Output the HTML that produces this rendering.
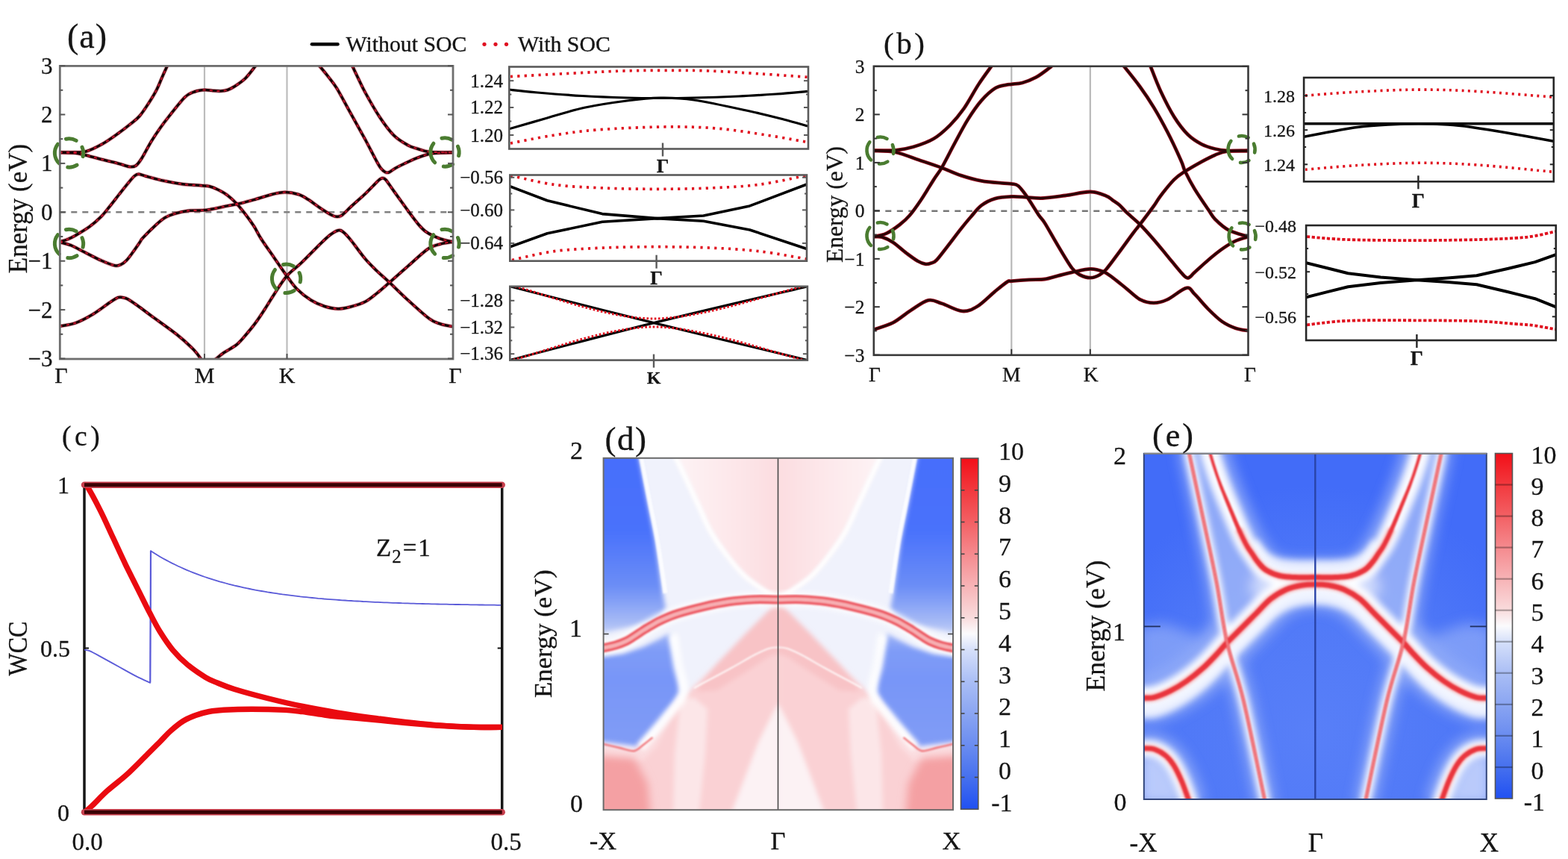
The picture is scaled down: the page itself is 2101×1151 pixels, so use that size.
<!DOCTYPE html>
<html><head><meta charset="utf-8"><title>Band structure figure</title>
<style>html,body{margin:0;padding:0;background:#fff;} svg{display:block;} text{stroke:#151515;stroke-width:0.3px;}</style></head>
<body><svg width="2101" height="1151" viewBox="0 0 2101 1151">
<rect width="2101" height="1151" fill="#fff"/>
<g stroke="#bcbcbc" stroke-width="2.2">
<line x1="274" y1="88.4" x2="274" y2="481"/>
<line x1="384.5" y1="88.4" x2="384.5" y2="481"/>
</g>
<line x1="80.3" y1="284.2" x2="607" y2="284.2" stroke="#808080" stroke-width="2.6" stroke-dasharray="8,7"/>
<defs><clipPath id="clipA"><rect x="80.3" y="88.4" width="526.7" height="392.6"/></clipPath></defs>
<g clip-path="url(#clipA)" fill="none" stroke-linecap="round" stroke-linejoin="round">
<path d="M80.5,204.2 C83.8,204.2 94.2,204.2 100,204 C105.8,203.8 108.8,204.8 115,203 C121.2,201.2 129.8,197 137,193 C144.2,189 151.7,183.5 158,179 C164.3,174.5 170.2,169.9 175,166 C179.8,162.1 182.8,160.3 187,155.5 C191.2,150.7 196.2,142.9 200,137 C203.8,131.1 207.2,125.5 210,120 C212.8,114.5 214.7,109.2 217,104 C219.3,98.8 222.8,91.1 224,88.5" stroke="#d0283f" stroke-width="5.2" opacity="0.5"/>
<path d="M80.5,204.5 C83.8,204.6 94.2,204.4 100,205 C105.8,205.6 108.3,206.4 115,208 C121.7,209.6 132.5,212.6 140,214.5 C147.5,216.4 154.3,218 160,219.5 C165.7,221 170.3,223.1 174,223.5 C177.7,223.9 179.3,223.9 182,222 C184.7,220.1 186.5,217.5 190,212 C193.5,206.5 198.8,195.8 203,189 C207.2,182.2 211.2,176.4 215,171 C218.8,165.6 220.5,163.3 226,156.5 C231.5,149.7 242,135.7 248,130 C254,124.3 257.6,124.1 262,122.5 C266.4,120.9 270.6,120.7 274.4,120.5 C278.2,120.3 281.4,121.2 285,121.5 C288.6,121.8 292.7,122.2 296,122 C299.3,121.8 302.1,121.5 305,120.5 C307.9,119.5 309.5,118.9 313.5,116.3 C317.5,113.7 324,109.5 328.8,104.9 C333.6,100.3 340,91.3 342.2,88.6" stroke="#d0283f" stroke-width="5.2" opacity="0.5"/>
<path d="M80.5,324 C82.2,323.4 87.5,322 91,320.5 C94.5,319 96.8,318 101.6,315.2 C106.4,312.4 114,308 119.7,303.9 C125.4,299.8 131,294.8 135.5,290.3 C140,285.8 142.7,281.9 146.8,276.8 C150.9,271.8 155.8,265.3 160,260 C164.2,254.7 168.7,249 172,245 C175.3,241 177.8,237.9 180,236 C182.2,234.1 183,233.3 185.5,233.3 C188,233.3 191.2,235 195,236 C198.8,237 203.6,238.4 208,239.5 C212.4,240.6 215.2,241.4 221.4,242.6 C227.6,243.8 237.3,245.8 245.2,246.8 C253.1,247.8 263.1,248.1 269,248.6 C274.9,249.1 276.9,248.8 280.9,249.8 C284.9,250.8 288.8,252.5 292.8,254.5 C296.8,256.5 300.7,258.6 304.7,261.6 C308.7,264.6 312.6,268.2 316.6,272.4 C320.6,276.6 324.5,281.5 328.5,286.6 C332.5,291.8 336.8,297.7 340.4,303.3 C344,308.9 345.4,313.1 349.9,320 C354.3,326.9 361.4,336.7 367.1,345 C372.8,353.3 379.2,362.8 384.3,369.8 C389.4,376.8 392.2,381.6 397.6,387 C403,392.4 410.6,398.4 416.8,402.3 C423,406.2 428.9,408.6 435,410.5 C441.1,412.4 447.3,413.7 453.1,413.8 C458.9,413.9 463.9,412.6 470,411 C476.1,409.4 483.6,407.3 489.4,404.3 C495.2,401.3 499.6,397.3 505,393 C510.4,388.7 514.9,384.6 521.9,378.5 C528.9,372.4 538.2,364 546.8,356.5 C555.4,349 566.3,338.4 573.5,333.5 C580.7,328.6 584.4,328.6 590,327 C595.6,325.4 604.2,324.5 607,324" stroke="#d0283f" stroke-width="5.2" opacity="0.5"/>
<path d="M80.5,324.5 C82.9,325.2 89.5,326.5 94.9,328.7 C100.3,330.9 106.1,334.3 112.9,337.7 C119.7,341.1 128.7,346 135.5,349 C142.3,352 149.2,354.9 153.6,355.8 C158,356.7 159.4,355.6 162,354.5 C164.6,353.4 166.7,351.8 169.4,349 C172.1,346.2 175,342.1 178,338 C181,333.9 185.1,327.8 187.4,324.5 C189.7,321.2 187.9,322.4 191.6,318.5 C195.3,314.6 204.6,305.4 209.5,300.9 C214.4,296.4 217.3,293.9 221.3,291.5 C225.3,289.1 228.3,288.1 233.3,286.6 C238.3,285.1 245.2,283.3 251.1,282.5 C257.1,281.7 264,282.2 269,281.9 C274,281.6 274.9,281.7 280.9,280.7 C286.8,279.7 297.8,277.3 304.7,275.9 C311.6,274.5 316.6,273.8 322.5,272.4 C328.4,271 333.4,269.6 340.4,267.6 C347.3,265.6 357.3,262.2 364.2,260.5 C371.1,258.8 376.1,257.6 382,257.6 C387.9,257.6 394.8,258.9 399.9,260.5 C405,262.1 407.5,263.9 412.9,267.3 C418.2,270.7 426.6,277.2 432,280.7 C437.4,284.2 441.8,286.9 445,288.5 C448.2,290.1 449,290.3 451.2,290.3 C453.4,290.3 454.8,290.7 458,288.5 C461.2,286.3 465.1,281.7 470.3,276.9 C475.5,272.1 484.4,264.3 489.4,259.7 C494.3,255 496.9,252.1 500,249 C503.1,245.9 505.9,242.7 508,241 C510.1,239.3 510.8,238.7 512.3,238.7 C513.8,238.7 514.5,238.1 517,241 C519.5,243.9 522.6,249 527.6,255.9 C532.6,262.8 541.4,275.2 546.8,282.6 C552.2,290 556.2,295.4 560.1,300 C564,304.6 566.5,307.3 570,310 C573.5,312.7 577,314.4 581.2,316.3 C585.4,318.2 590.7,320.2 595,321.5 C599.3,322.8 605,323.6 607,324" stroke="#d0283f" stroke-width="5.2" opacity="0.5"/>
<path d="M428.2,88.6 C430.2,91 436.2,98.1 440,103 C443.8,107.9 446.1,109.9 451.2,118.2 C456.2,126.5 463.9,141.1 470.3,152.6 C476.7,164.1 483.9,176.9 489.4,187 C494.8,197.1 499.6,206.7 503,213 C506.4,219.3 507.8,222.1 510,225 C512.2,227.9 514.2,229.5 516,230.5 C517.8,231.5 519,231.7 521,231 C523,230.3 525.3,228.1 528,226.5 C530.7,224.9 532.2,223.9 537.2,221.5 C542.2,219.1 551.8,214.5 558.2,211.9 C564.6,209.3 570.1,207.4 575.4,206.2 C580.7,205 584.7,205.1 590,204.8 C595.3,204.5 604.2,204.4 607,204.3" stroke="#d0283f" stroke-width="5.2" opacity="0.5"/>
<path d="M472.2,88.6 C473.5,91.3 477.1,99.1 480,105 C482.9,110.9 484.6,115.4 489.4,124 C494.1,132.6 502.1,146.9 508.5,156.5 C514.9,166.1 521.2,174.9 527.6,181.3 C534,187.7 541.4,191.7 546.8,194.7 C552.2,197.7 555.5,198.1 560,199.5 C564.5,200.9 568.5,202.5 573.5,203.3 C578.5,204.1 584.4,204 590,204.2 C595.6,204.4 604.2,204.3 607,204.3" stroke="#d0283f" stroke-width="5.2" opacity="0.5"/>
<path d="M80.5,437.1 C84,436.4 94.3,435.2 101.6,432.6 C108.9,430 116.7,425.8 124.2,421.3 C131.7,416.8 141.2,409.3 146.8,405.5 C152.5,401.7 155.1,399.8 158.1,398.7 C161.1,397.6 162.8,398.4 165,398.8 C167.2,399.2 168.3,399.1 171.6,401 C174.9,402.9 179.7,406.2 185,410 C190.3,413.8 194.6,417.2 203.3,423.6 C212,430 227.7,440.9 237.1,448.4 C246.5,455.9 254.3,463.2 259.7,468.7 C265.1,474.2 267.9,479.4 269.5,481.5" stroke="#d0283f" stroke-width="5.2" opacity="0.5"/>
<path d="M288.7,481.5 C290.6,480 295.2,475.8 300,472.5 C304.8,469.2 312.4,465.7 317.4,461.6 C322.4,457.5 325.9,452.8 330,448 C334.1,443.2 338,438.6 342.2,432.9 C346.4,427.2 350.9,420.4 355,414 C359.1,407.6 362.2,402.1 367.1,394.7 C372,387.3 378.2,376.8 384.3,369.8 C390.4,362.8 396.1,359.6 403.4,352.6 C410.7,345.6 421.8,334.1 428.2,327.8 C434.6,321.5 437.9,318.2 442,315 C446.1,311.8 450.1,309.4 453.1,308.7 C456.1,308 457.1,308.8 460,311 C462.9,313.2 465.4,316 470.3,322 C475.2,328 483.6,340.1 489.4,346.9 C495.2,353.7 499.6,357.7 505,363 C510.4,368.3 514.9,371.9 521.9,378.5 C528.9,385.1 537.9,394.2 546.8,402.3 C555.7,410.4 568.2,421.9 575.4,427.2 C582.6,432.5 584.7,432.2 590,434 C595.3,435.8 604.2,437.1 607,437.7" stroke="#d0283f" stroke-width="5.2" opacity="0.5"/>
<path d="M80.5,204.2 C83.8,204.2 94.2,204.2 100,204 C105.8,203.8 108.8,204.8 115,203 C121.2,201.2 129.8,197 137,193 C144.2,189 151.7,183.5 158,179 C164.3,174.5 170.2,169.9 175,166 C179.8,162.1 182.8,160.3 187,155.5 C191.2,150.7 196.2,142.9 200,137 C203.8,131.1 207.2,125.5 210,120 C212.8,114.5 214.7,109.2 217,104 C219.3,98.8 222.8,91.1 224,88.5" stroke="#140203" stroke-width="3.5"/>
<path d="M80.5,204.5 C83.8,204.6 94.2,204.4 100,205 C105.8,205.6 108.3,206.4 115,208 C121.7,209.6 132.5,212.6 140,214.5 C147.5,216.4 154.3,218 160,219.5 C165.7,221 170.3,223.1 174,223.5 C177.7,223.9 179.3,223.9 182,222 C184.7,220.1 186.5,217.5 190,212 C193.5,206.5 198.8,195.8 203,189 C207.2,182.2 211.2,176.4 215,171 C218.8,165.6 220.5,163.3 226,156.5 C231.5,149.7 242,135.7 248,130 C254,124.3 257.6,124.1 262,122.5 C266.4,120.9 270.6,120.7 274.4,120.5 C278.2,120.3 281.4,121.2 285,121.5 C288.6,121.8 292.7,122.2 296,122 C299.3,121.8 302.1,121.5 305,120.5 C307.9,119.5 309.5,118.9 313.5,116.3 C317.5,113.7 324,109.5 328.8,104.9 C333.6,100.3 340,91.3 342.2,88.6" stroke="#140203" stroke-width="3.5"/>
<path d="M80.5,324 C82.2,323.4 87.5,322 91,320.5 C94.5,319 96.8,318 101.6,315.2 C106.4,312.4 114,308 119.7,303.9 C125.4,299.8 131,294.8 135.5,290.3 C140,285.8 142.7,281.9 146.8,276.8 C150.9,271.8 155.8,265.3 160,260 C164.2,254.7 168.7,249 172,245 C175.3,241 177.8,237.9 180,236 C182.2,234.1 183,233.3 185.5,233.3 C188,233.3 191.2,235 195,236 C198.8,237 203.6,238.4 208,239.5 C212.4,240.6 215.2,241.4 221.4,242.6 C227.6,243.8 237.3,245.8 245.2,246.8 C253.1,247.8 263.1,248.1 269,248.6 C274.9,249.1 276.9,248.8 280.9,249.8 C284.9,250.8 288.8,252.5 292.8,254.5 C296.8,256.5 300.7,258.6 304.7,261.6 C308.7,264.6 312.6,268.2 316.6,272.4 C320.6,276.6 324.5,281.5 328.5,286.6 C332.5,291.8 336.8,297.7 340.4,303.3 C344,308.9 345.4,313.1 349.9,320 C354.3,326.9 361.4,336.7 367.1,345 C372.8,353.3 379.2,362.8 384.3,369.8 C389.4,376.8 392.2,381.6 397.6,387 C403,392.4 410.6,398.4 416.8,402.3 C423,406.2 428.9,408.6 435,410.5 C441.1,412.4 447.3,413.7 453.1,413.8 C458.9,413.9 463.9,412.6 470,411 C476.1,409.4 483.6,407.3 489.4,404.3 C495.2,401.3 499.6,397.3 505,393 C510.4,388.7 514.9,384.6 521.9,378.5 C528.9,372.4 538.2,364 546.8,356.5 C555.4,349 566.3,338.4 573.5,333.5 C580.7,328.6 584.4,328.6 590,327 C595.6,325.4 604.2,324.5 607,324" stroke="#140203" stroke-width="3.5"/>
<path d="M80.5,324.5 C82.9,325.2 89.5,326.5 94.9,328.7 C100.3,330.9 106.1,334.3 112.9,337.7 C119.7,341.1 128.7,346 135.5,349 C142.3,352 149.2,354.9 153.6,355.8 C158,356.7 159.4,355.6 162,354.5 C164.6,353.4 166.7,351.8 169.4,349 C172.1,346.2 175,342.1 178,338 C181,333.9 185.1,327.8 187.4,324.5 C189.7,321.2 187.9,322.4 191.6,318.5 C195.3,314.6 204.6,305.4 209.5,300.9 C214.4,296.4 217.3,293.9 221.3,291.5 C225.3,289.1 228.3,288.1 233.3,286.6 C238.3,285.1 245.2,283.3 251.1,282.5 C257.1,281.7 264,282.2 269,281.9 C274,281.6 274.9,281.7 280.9,280.7 C286.8,279.7 297.8,277.3 304.7,275.9 C311.6,274.5 316.6,273.8 322.5,272.4 C328.4,271 333.4,269.6 340.4,267.6 C347.3,265.6 357.3,262.2 364.2,260.5 C371.1,258.8 376.1,257.6 382,257.6 C387.9,257.6 394.8,258.9 399.9,260.5 C405,262.1 407.5,263.9 412.9,267.3 C418.2,270.7 426.6,277.2 432,280.7 C437.4,284.2 441.8,286.9 445,288.5 C448.2,290.1 449,290.3 451.2,290.3 C453.4,290.3 454.8,290.7 458,288.5 C461.2,286.3 465.1,281.7 470.3,276.9 C475.5,272.1 484.4,264.3 489.4,259.7 C494.3,255 496.9,252.1 500,249 C503.1,245.9 505.9,242.7 508,241 C510.1,239.3 510.8,238.7 512.3,238.7 C513.8,238.7 514.5,238.1 517,241 C519.5,243.9 522.6,249 527.6,255.9 C532.6,262.8 541.4,275.2 546.8,282.6 C552.2,290 556.2,295.4 560.1,300 C564,304.6 566.5,307.3 570,310 C573.5,312.7 577,314.4 581.2,316.3 C585.4,318.2 590.7,320.2 595,321.5 C599.3,322.8 605,323.6 607,324" stroke="#140203" stroke-width="3.5"/>
<path d="M428.2,88.6 C430.2,91 436.2,98.1 440,103 C443.8,107.9 446.1,109.9 451.2,118.2 C456.2,126.5 463.9,141.1 470.3,152.6 C476.7,164.1 483.9,176.9 489.4,187 C494.8,197.1 499.6,206.7 503,213 C506.4,219.3 507.8,222.1 510,225 C512.2,227.9 514.2,229.5 516,230.5 C517.8,231.5 519,231.7 521,231 C523,230.3 525.3,228.1 528,226.5 C530.7,224.9 532.2,223.9 537.2,221.5 C542.2,219.1 551.8,214.5 558.2,211.9 C564.6,209.3 570.1,207.4 575.4,206.2 C580.7,205 584.7,205.1 590,204.8 C595.3,204.5 604.2,204.4 607,204.3" stroke="#140203" stroke-width="3.5"/>
<path d="M472.2,88.6 C473.5,91.3 477.1,99.1 480,105 C482.9,110.9 484.6,115.4 489.4,124 C494.1,132.6 502.1,146.9 508.5,156.5 C514.9,166.1 521.2,174.9 527.6,181.3 C534,187.7 541.4,191.7 546.8,194.7 C552.2,197.7 555.5,198.1 560,199.5 C564.5,200.9 568.5,202.5 573.5,203.3 C578.5,204.1 584.4,204 590,204.2 C595.6,204.4 604.2,204.3 607,204.3" stroke="#140203" stroke-width="3.5"/>
<path d="M80.5,437.1 C84,436.4 94.3,435.2 101.6,432.6 C108.9,430 116.7,425.8 124.2,421.3 C131.7,416.8 141.2,409.3 146.8,405.5 C152.5,401.7 155.1,399.8 158.1,398.7 C161.1,397.6 162.8,398.4 165,398.8 C167.2,399.2 168.3,399.1 171.6,401 C174.9,402.9 179.7,406.2 185,410 C190.3,413.8 194.6,417.2 203.3,423.6 C212,430 227.7,440.9 237.1,448.4 C246.5,455.9 254.3,463.2 259.7,468.7 C265.1,474.2 267.9,479.4 269.5,481.5" stroke="#140203" stroke-width="3.5"/>
<path d="M288.7,481.5 C290.6,480 295.2,475.8 300,472.5 C304.8,469.2 312.4,465.7 317.4,461.6 C322.4,457.5 325.9,452.8 330,448 C334.1,443.2 338,438.6 342.2,432.9 C346.4,427.2 350.9,420.4 355,414 C359.1,407.6 362.2,402.1 367.1,394.7 C372,387.3 378.2,376.8 384.3,369.8 C390.4,362.8 396.1,359.6 403.4,352.6 C410.7,345.6 421.8,334.1 428.2,327.8 C434.6,321.5 437.9,318.2 442,315 C446.1,311.8 450.1,309.4 453.1,308.7 C456.1,308 457.1,308.8 460,311 C462.9,313.2 465.4,316 470.3,322 C475.2,328 483.6,340.1 489.4,346.9 C495.2,353.7 499.6,357.7 505,363 C510.4,368.3 514.9,371.9 521.9,378.5 C528.9,385.1 537.9,394.2 546.8,402.3 C555.7,410.4 568.2,421.9 575.4,427.2 C582.6,432.5 584.7,432.2 590,434 C595.3,435.8 604.2,437.1 607,437.7" stroke="#140203" stroke-width="3.5"/>
<path d="M80.5,204.2 C83.8,204.2 94.2,204.2 100,204 C105.8,203.8 108.8,204.8 115,203 C121.2,201.2 129.8,197 137,193 C144.2,189 151.7,183.5 158,179 C164.3,174.5 170.2,169.9 175,166 C179.8,162.1 182.8,160.3 187,155.5 C191.2,150.7 196.2,142.9 200,137 C203.8,131.1 207.2,125.5 210,120 C212.8,114.5 214.7,109.2 217,104 C219.3,98.8 222.8,91.1 224,88.5" stroke="#c8102a" stroke-width="2" stroke-dasharray="2.4,7"/>
<path d="M80.5,204.5 C83.8,204.6 94.2,204.4 100,205 C105.8,205.6 108.3,206.4 115,208 C121.7,209.6 132.5,212.6 140,214.5 C147.5,216.4 154.3,218 160,219.5 C165.7,221 170.3,223.1 174,223.5 C177.7,223.9 179.3,223.9 182,222 C184.7,220.1 186.5,217.5 190,212 C193.5,206.5 198.8,195.8 203,189 C207.2,182.2 211.2,176.4 215,171 C218.8,165.6 220.5,163.3 226,156.5 C231.5,149.7 242,135.7 248,130 C254,124.3 257.6,124.1 262,122.5 C266.4,120.9 270.6,120.7 274.4,120.5 C278.2,120.3 281.4,121.2 285,121.5 C288.6,121.8 292.7,122.2 296,122 C299.3,121.8 302.1,121.5 305,120.5 C307.9,119.5 309.5,118.9 313.5,116.3 C317.5,113.7 324,109.5 328.8,104.9 C333.6,100.3 340,91.3 342.2,88.6" stroke="#c8102a" stroke-width="2" stroke-dasharray="2.4,7"/>
<path d="M80.5,324 C82.2,323.4 87.5,322 91,320.5 C94.5,319 96.8,318 101.6,315.2 C106.4,312.4 114,308 119.7,303.9 C125.4,299.8 131,294.8 135.5,290.3 C140,285.8 142.7,281.9 146.8,276.8 C150.9,271.8 155.8,265.3 160,260 C164.2,254.7 168.7,249 172,245 C175.3,241 177.8,237.9 180,236 C182.2,234.1 183,233.3 185.5,233.3 C188,233.3 191.2,235 195,236 C198.8,237 203.6,238.4 208,239.5 C212.4,240.6 215.2,241.4 221.4,242.6 C227.6,243.8 237.3,245.8 245.2,246.8 C253.1,247.8 263.1,248.1 269,248.6 C274.9,249.1 276.9,248.8 280.9,249.8 C284.9,250.8 288.8,252.5 292.8,254.5 C296.8,256.5 300.7,258.6 304.7,261.6 C308.7,264.6 312.6,268.2 316.6,272.4 C320.6,276.6 324.5,281.5 328.5,286.6 C332.5,291.8 336.8,297.7 340.4,303.3 C344,308.9 345.4,313.1 349.9,320 C354.3,326.9 361.4,336.7 367.1,345 C372.8,353.3 379.2,362.8 384.3,369.8 C389.4,376.8 392.2,381.6 397.6,387 C403,392.4 410.6,398.4 416.8,402.3 C423,406.2 428.9,408.6 435,410.5 C441.1,412.4 447.3,413.7 453.1,413.8 C458.9,413.9 463.9,412.6 470,411 C476.1,409.4 483.6,407.3 489.4,404.3 C495.2,401.3 499.6,397.3 505,393 C510.4,388.7 514.9,384.6 521.9,378.5 C528.9,372.4 538.2,364 546.8,356.5 C555.4,349 566.3,338.4 573.5,333.5 C580.7,328.6 584.4,328.6 590,327 C595.6,325.4 604.2,324.5 607,324" stroke="#c8102a" stroke-width="2" stroke-dasharray="2.4,7"/>
<path d="M80.5,324.5 C82.9,325.2 89.5,326.5 94.9,328.7 C100.3,330.9 106.1,334.3 112.9,337.7 C119.7,341.1 128.7,346 135.5,349 C142.3,352 149.2,354.9 153.6,355.8 C158,356.7 159.4,355.6 162,354.5 C164.6,353.4 166.7,351.8 169.4,349 C172.1,346.2 175,342.1 178,338 C181,333.9 185.1,327.8 187.4,324.5 C189.7,321.2 187.9,322.4 191.6,318.5 C195.3,314.6 204.6,305.4 209.5,300.9 C214.4,296.4 217.3,293.9 221.3,291.5 C225.3,289.1 228.3,288.1 233.3,286.6 C238.3,285.1 245.2,283.3 251.1,282.5 C257.1,281.7 264,282.2 269,281.9 C274,281.6 274.9,281.7 280.9,280.7 C286.8,279.7 297.8,277.3 304.7,275.9 C311.6,274.5 316.6,273.8 322.5,272.4 C328.4,271 333.4,269.6 340.4,267.6 C347.3,265.6 357.3,262.2 364.2,260.5 C371.1,258.8 376.1,257.6 382,257.6 C387.9,257.6 394.8,258.9 399.9,260.5 C405,262.1 407.5,263.9 412.9,267.3 C418.2,270.7 426.6,277.2 432,280.7 C437.4,284.2 441.8,286.9 445,288.5 C448.2,290.1 449,290.3 451.2,290.3 C453.4,290.3 454.8,290.7 458,288.5 C461.2,286.3 465.1,281.7 470.3,276.9 C475.5,272.1 484.4,264.3 489.4,259.7 C494.3,255 496.9,252.1 500,249 C503.1,245.9 505.9,242.7 508,241 C510.1,239.3 510.8,238.7 512.3,238.7 C513.8,238.7 514.5,238.1 517,241 C519.5,243.9 522.6,249 527.6,255.9 C532.6,262.8 541.4,275.2 546.8,282.6 C552.2,290 556.2,295.4 560.1,300 C564,304.6 566.5,307.3 570,310 C573.5,312.7 577,314.4 581.2,316.3 C585.4,318.2 590.7,320.2 595,321.5 C599.3,322.8 605,323.6 607,324" stroke="#c8102a" stroke-width="2" stroke-dasharray="2.4,7"/>
<path d="M428.2,88.6 C430.2,91 436.2,98.1 440,103 C443.8,107.9 446.1,109.9 451.2,118.2 C456.2,126.5 463.9,141.1 470.3,152.6 C476.7,164.1 483.9,176.9 489.4,187 C494.8,197.1 499.6,206.7 503,213 C506.4,219.3 507.8,222.1 510,225 C512.2,227.9 514.2,229.5 516,230.5 C517.8,231.5 519,231.7 521,231 C523,230.3 525.3,228.1 528,226.5 C530.7,224.9 532.2,223.9 537.2,221.5 C542.2,219.1 551.8,214.5 558.2,211.9 C564.6,209.3 570.1,207.4 575.4,206.2 C580.7,205 584.7,205.1 590,204.8 C595.3,204.5 604.2,204.4 607,204.3" stroke="#c8102a" stroke-width="2" stroke-dasharray="2.4,7"/>
<path d="M472.2,88.6 C473.5,91.3 477.1,99.1 480,105 C482.9,110.9 484.6,115.4 489.4,124 C494.1,132.6 502.1,146.9 508.5,156.5 C514.9,166.1 521.2,174.9 527.6,181.3 C534,187.7 541.4,191.7 546.8,194.7 C552.2,197.7 555.5,198.1 560,199.5 C564.5,200.9 568.5,202.5 573.5,203.3 C578.5,204.1 584.4,204 590,204.2 C595.6,204.4 604.2,204.3 607,204.3" stroke="#c8102a" stroke-width="2" stroke-dasharray="2.4,7"/>
<path d="M80.5,437.1 C84,436.4 94.3,435.2 101.6,432.6 C108.9,430 116.7,425.8 124.2,421.3 C131.7,416.8 141.2,409.3 146.8,405.5 C152.5,401.7 155.1,399.8 158.1,398.7 C161.1,397.6 162.8,398.4 165,398.8 C167.2,399.2 168.3,399.1 171.6,401 C174.9,402.9 179.7,406.2 185,410 C190.3,413.8 194.6,417.2 203.3,423.6 C212,430 227.7,440.9 237.1,448.4 C246.5,455.9 254.3,463.2 259.7,468.7 C265.1,474.2 267.9,479.4 269.5,481.5" stroke="#c8102a" stroke-width="2" stroke-dasharray="2.4,7"/>
<path d="M288.7,481.5 C290.6,480 295.2,475.8 300,472.5 C304.8,469.2 312.4,465.7 317.4,461.6 C322.4,457.5 325.9,452.8 330,448 C334.1,443.2 338,438.6 342.2,432.9 C346.4,427.2 350.9,420.4 355,414 C359.1,407.6 362.2,402.1 367.1,394.7 C372,387.3 378.2,376.8 384.3,369.8 C390.4,362.8 396.1,359.6 403.4,352.6 C410.7,345.6 421.8,334.1 428.2,327.8 C434.6,321.5 437.9,318.2 442,315 C446.1,311.8 450.1,309.4 453.1,308.7 C456.1,308 457.1,308.8 460,311 C462.9,313.2 465.4,316 470.3,322 C475.2,328 483.6,340.1 489.4,346.9 C495.2,353.7 499.6,357.7 505,363 C510.4,368.3 514.9,371.9 521.9,378.5 C528.9,385.1 537.9,394.2 546.8,402.3 C555.7,410.4 568.2,421.9 575.4,427.2 C582.6,432.5 584.7,432.2 590,434 C595.3,435.8 604.2,437.1 607,437.7" stroke="#c8102a" stroke-width="2" stroke-dasharray="2.4,7"/>
</g>
<path d="M111.1,209.6 A19.2,19.2 0 0 0 110,197.2" fill="none" stroke="#4a7c30" stroke-width="5" stroke-linecap="round"/>
<path d="M102.1,188.4 A19.2,19.2 0 0 0 88.5,186.2" fill="none" stroke="#4a7c30" stroke-width="5" stroke-linecap="round"/>
<path d="M77.4,193.2 A19.2,19.2 0 0 0 79.2,218.8" fill="none" stroke="#4a7c30" stroke-width="5" stroke-linecap="round"/>
<path d="M90.8,224.1 A19.2,19.2 0 0 0 103,221.1" fill="none" stroke="#4a7c30" stroke-width="5" stroke-linecap="round"/>
<path d="M111.1,331.1 A19.2,19.2 0 0 0 110,318.7" fill="none" stroke="#4a7c30" stroke-width="5" stroke-linecap="round"/>
<path d="M102.1,309.9 A19.2,19.2 0 0 0 88.5,307.7" fill="none" stroke="#4a7c30" stroke-width="5" stroke-linecap="round"/>
<path d="M77.4,314.7 A19.2,19.2 0 0 0 79.2,340.3" fill="none" stroke="#4a7c30" stroke-width="5" stroke-linecap="round"/>
<path d="M90.8,345.6 A19.2,19.2 0 0 0 103,342.6" fill="none" stroke="#4a7c30" stroke-width="5" stroke-linecap="round"/>
<path d="M614.6,208.6 A19.2,19.2 0 0 0 613.5,196.2" fill="none" stroke="#4a7c30" stroke-width="5" stroke-linecap="round"/>
<path d="M605.6,187.4 A19.2,19.2 0 0 0 592,185.2" fill="none" stroke="#4a7c30" stroke-width="5" stroke-linecap="round"/>
<path d="M580.9,192.2 A19.2,19.2 0 0 0 582.7,217.8" fill="none" stroke="#4a7c30" stroke-width="5" stroke-linecap="round"/>
<path d="M594.3,223.1 A19.2,19.2 0 0 0 606.5,220.1" fill="none" stroke="#4a7c30" stroke-width="5" stroke-linecap="round"/>
<path d="M614.6,331 A19.2,19.2 0 0 0 613.5,318.6" fill="none" stroke="#4a7c30" stroke-width="5" stroke-linecap="round"/>
<path d="M605.6,309.8 A19.2,19.2 0 0 0 592,307.6" fill="none" stroke="#4a7c30" stroke-width="5" stroke-linecap="round"/>
<path d="M580.9,314.6 A19.2,19.2 0 0 0 582.7,340.2" fill="none" stroke="#4a7c30" stroke-width="5" stroke-linecap="round"/>
<path d="M594.3,345.5 A19.2,19.2 0 0 0 606.5,342.5" fill="none" stroke="#4a7c30" stroke-width="5" stroke-linecap="round"/>
<path d="M402.2,377.9 A19.2,19.2 0 0 0 401.1,365.5" fill="none" stroke="#4a7c30" stroke-width="5" stroke-linecap="round"/>
<path d="M393.2,356.7 A19.2,19.2 0 0 0 379.6,354.5" fill="none" stroke="#4a7c30" stroke-width="5" stroke-linecap="round"/>
<path d="M368.5,361.5 A19.2,19.2 0 0 0 370.3,387.1" fill="none" stroke="#4a7c30" stroke-width="5" stroke-linecap="round"/>
<path d="M381.9,392.4 A19.2,19.2 0 0 0 394.1,389.4" fill="none" stroke="#4a7c30" stroke-width="5" stroke-linecap="round"/>
<rect x="80.3" y="88.4" width="526.7" height="392.6" fill="none" stroke="#6e6e6e" stroke-width="2.8"/>
<g stroke="#555" stroke-width="2">
<line x1="80.3" y1="480.5" x2="87.3" y2="480.5"/>
<line x1="607" y1="480.5" x2="600" y2="480.5"/>
<line x1="80.3" y1="447.8" x2="84.3" y2="447.8"/>
<line x1="607" y1="447.8" x2="603" y2="447.8"/>
<line x1="80.3" y1="415.1" x2="87.3" y2="415.1"/>
<line x1="607" y1="415.1" x2="600" y2="415.1"/>
<line x1="80.3" y1="382.4" x2="84.3" y2="382.4"/>
<line x1="607" y1="382.4" x2="603" y2="382.4"/>
<line x1="80.3" y1="349.7" x2="87.3" y2="349.7"/>
<line x1="607" y1="349.7" x2="600" y2="349.7"/>
<line x1="80.3" y1="317" x2="84.3" y2="317"/>
<line x1="607" y1="317" x2="603" y2="317"/>
<line x1="80.3" y1="284.3" x2="87.3" y2="284.3"/>
<line x1="607" y1="284.3" x2="600" y2="284.3"/>
<line x1="80.3" y1="251.6" x2="84.3" y2="251.6"/>
<line x1="607" y1="251.6" x2="603" y2="251.6"/>
<line x1="80.3" y1="218.9" x2="87.3" y2="218.9"/>
<line x1="607" y1="218.9" x2="600" y2="218.9"/>
<line x1="80.3" y1="186.2" x2="84.3" y2="186.2"/>
<line x1="607" y1="186.2" x2="603" y2="186.2"/>
<line x1="80.3" y1="153.5" x2="87.3" y2="153.5"/>
<line x1="607" y1="153.5" x2="600" y2="153.5"/>
<line x1="80.3" y1="120.8" x2="84.3" y2="120.8"/>
<line x1="607" y1="120.8" x2="603" y2="120.8"/>
<line x1="80.3" y1="88.1" x2="87.3" y2="88.1"/>
<line x1="607" y1="88.1" x2="600" y2="88.1"/>
<line x1="274" y1="481" x2="274" y2="474"/>
<line x1="384.5" y1="481" x2="384.5" y2="474"/>
</g>
<g style="font-family:'Liberation Serif','Times New Roman',serif" font-size="31" fill="#151515" text-anchor="end">
<text x="70.5" y="98.6">3</text>
<text x="70.5" y="164">2</text>
<text x="70.5" y="229.4">1</text>
<text x="70.5" y="294.8">0</text>
<text x="70.5" y="360.2">−1</text>
<text x="70.5" y="425.6">−2</text>
<text x="70.5" y="491">−3</text>
</g>
<g style="font-family:'Liberation Serif','Times New Roman',serif" font-size="30" fill="#151515" text-anchor="middle">
<text x="82" y="512.6">Γ</text>
<text x="274" y="512.6">M</text>
<text x="384.5" y="512.6">K</text>
<text x="610" y="512.6">Γ</text>
</g>
<text x="35.5" y="279.5" transform="rotate(-90 35.5 279.5)" style="font-family:'Liberation Serif','Times New Roman',serif" font-size="35" fill="#151515" text-anchor="middle">Energy (eV)</text>
<text x="90" y="63.5" style="font-family:'Liberation Serif','Times New Roman',serif" font-size="46" fill="#151515" letter-spacing="1">(a)</text>
<line x1="418" y1="59.2" x2="452.5" y2="59.2" stroke="#000" stroke-width="4.6" stroke-linecap="round"/>
<text x="463.5" y="69" style="font-family:'Liberation Serif','Times New Roman',serif" font-size="29.8" fill="#151515">Without SOC</text>
<circle cx="649" cy="59.3" r="2.6" fill="#e01020"/>
<circle cx="664" cy="59.3" r="2.6" fill="#e01020"/>
<circle cx="678.5" cy="59.3" r="2.6" fill="#e01020"/>
<text x="694" y="69" style="font-family:'Liberation Serif','Times New Roman',serif" font-size="29.8" fill="#151515">With SOC</text>
<defs><clipPath id="clip682_89"><rect x="682.3" y="89.5" width="400.70000000000005" height="110.0"/></clipPath></defs>
<g clip-path="url(#clip682_89)" fill="none" stroke-linecap="round" stroke-linejoin="round">
<path d="M682,120 C688.3,120.7 703.7,122.6 720,124 C736.3,125.4 760,127.3 780,128.5 C800,129.7 822.5,130.5 840,131 C857.5,131.5 870,131.5 885,131.5 C900,131.5 912.5,131.4 930,131 C947.5,130.6 971.7,129.8 990,129 C1008.3,128.2 1024.5,127.1 1040,126 C1055.5,124.9 1075.8,123 1083,122.4" stroke="#000" stroke-width="3.2"/>
<path d="M682,172.8 C690,170.5 713.2,163.8 730,159 C746.8,154.2 764.7,148.3 783,144.3 C801.3,140.3 823,137.2 840,135 C857,132.8 870,131.4 885,131.2 C900,131 910.1,131 930,134 C949.9,137 984.6,144.7 1004.6,149 C1024.6,153.3 1036.9,156.6 1050,160 C1063.1,163.4 1077.5,167.7 1083,169.2" stroke="#000" stroke-width="3.2"/>
<path d="M684,102.6 C696.7,101.9 735.7,99.7 760,98.5 C784.3,97.3 808.7,95.9 830,95.2 C851.3,94.5 868,94.3 888,94.3 C908,94.3 928,94.2 950,95 C972,95.8 998,97.6 1020,99 C1042,100.4 1071.7,102.6 1082,103.3" stroke="#e0101e" stroke-width="3.7" stroke-dasharray="3.2,6.2" stroke-linecap="butt"/>
<path d="M684,192 C693.3,190.2 720.7,184.5 740,181.5 C759.3,178.5 775.3,175.9 800,174 C824.7,172.1 861.3,170.3 888,170 C914.7,169.7 936.3,170.1 960,172 C983.7,173.9 1009.7,178.4 1030,181.5 C1050.3,184.6 1073.3,189 1082,190.5" stroke="#e0101e" stroke-width="3.7" stroke-dasharray="3.2,6.2" stroke-linecap="butt"/>
</g>
<rect x="682.3" y="89.5" width="400.70000000000005" height="110.0" fill="none" stroke="#5a5a5a" stroke-width="2.6"/>
<g stroke="#5a5a5a" stroke-width="2">
<line x1="682.3" y1="108.2" x2="688.3" y2="108.2"/>
<line x1="1083" y1="108.2" x2="1077" y2="108.2"/>
<line x1="682.3" y1="126.5" x2="685.3" y2="126.5"/>
<line x1="1083" y1="126.5" x2="1080" y2="126.5"/>
<line x1="682.3" y1="144" x2="688.3" y2="144"/>
<line x1="1083" y1="144" x2="1077" y2="144"/>
<line x1="682.3" y1="162.5" x2="685.3" y2="162.5"/>
<line x1="1083" y1="162.5" x2="1080" y2="162.5"/>
<line x1="682.3" y1="181" x2="688.3" y2="181"/>
<line x1="1083" y1="181" x2="1077" y2="181"/>
<line x1="888" y1="191.5" x2="888" y2="209.5" stroke-width="2.4"/>
</g>
<g style="font-family:'Liberation Serif','Times New Roman',serif" font-size="25" fill="#151515" text-anchor="end">
<text x="674" y="116.5">1.24</text>
<text x="674" y="152.3">1.22</text>
<text x="674" y="189.5">1.20</text>
</g>
<text x="888" y="231" style="font-family:'Liberation Serif','Times New Roman',serif" font-size="26" font-weight="bold" fill="#151515" text-anchor="middle">Γ</text>
<defs><clipPath id="clip683_234"><rect x="683.3" y="234.5" width="397.70000000000005" height="115.19999999999999"/></clipPath></defs>
<g clip-path="url(#clip683_234)" fill="none" stroke-linecap="round" stroke-linejoin="round">
<path d="M683.3,249.7 L733.3,268.8 L807,286.6 L880.8,292.6 L942.7,289 L1004.6,275.9 L1081,247" stroke="#000" stroke-width="3.6"/>
<path d="M683.3,330.7 L733.3,312.8 L807,297.3 L880.8,292.6 L942.7,296.2 L1004.6,308 L1081,333.5" stroke="#000" stroke-width="3.6"/>
<path d="M684,235 C693.8,237.1 721.8,244.6 742.8,247.4 C763.8,250.2 787,251 810,252 C833,253 857.5,253.3 880.8,253.3 C904.1,253.3 927.4,253 950,252 C972.6,251 994.7,250.2 1016.5,247.4 C1038.3,244.6 1070.2,237.1 1081,235" stroke="#e0101e" stroke-width="3.7" stroke-dasharray="3.2,6.2" stroke-linecap="butt"/>
<path d="M686,348.5 C695.5,346.5 722.1,339.4 742.8,336.6 C763.5,333.9 787,333 810,332 C833,331 857.5,330.7 880.8,330.7 C904.1,330.7 927.4,331 950,332 C972.6,333 994.7,334.1 1016.5,336.6 C1038.3,339.1 1070.2,345.3 1081,347" stroke="#e0101e" stroke-width="3.7" stroke-dasharray="3.2,6.2" stroke-linecap="butt"/>
</g>
<rect x="683.3" y="234.5" width="397.70000000000005" height="115.19999999999999" fill="none" stroke="#5a5a5a" stroke-width="2.6"/>
<g stroke="#5a5a5a" stroke-width="2">
<line x1="683.3" y1="237.8" x2="689.3" y2="237.8"/>
<line x1="1081" y1="237.8" x2="1075" y2="237.8"/>
<line x1="683.3" y1="259.5" x2="686.3" y2="259.5"/>
<line x1="1081" y1="259.5" x2="1078" y2="259.5"/>
<line x1="683.3" y1="281.4" x2="689.3" y2="281.4"/>
<line x1="1081" y1="281.4" x2="1075" y2="281.4"/>
<line x1="683.3" y1="303.5" x2="686.3" y2="303.5"/>
<line x1="1081" y1="303.5" x2="1078" y2="303.5"/>
<line x1="683.3" y1="325.9" x2="689.3" y2="325.9"/>
<line x1="1081" y1="325.9" x2="1075" y2="325.9"/>
<line x1="879.6" y1="341.7" x2="879.6" y2="359.7" stroke-width="2.4"/>
</g>
<g style="font-family:'Liberation Serif','Times New Roman',serif" font-size="25" fill="#151515" text-anchor="end">
<text x="674" y="246">−0.56</text>
<text x="674" y="289.6">−0.60</text>
<text x="674" y="334.1">−0.64</text>
</g>
<text x="879.6" y="380.5" style="font-family:'Liberation Serif','Times New Roman',serif" font-size="26" font-weight="bold" fill="#151515" text-anchor="middle">Γ</text>
<defs><clipPath id="clip683_383"><rect x="683.3" y="383.8" width="398.60000000000014" height="98.80000000000001"/></clipPath></defs>
<g clip-path="url(#clip683_383)" fill="none" stroke-linecap="round" stroke-linejoin="round">
<path d="M683.3,383.8 C715.4,391.9 809.6,416.1 876,432.6 C942.4,449.1 1047.6,474.3 1081.9,482.6" stroke="#000" stroke-width="3.2"/>
<path d="M683.3,482.6 C715.4,474.3 809.6,449.1 876,432.6 C942.4,416.1 1047.6,391.9 1081.9,383.8" stroke="#000" stroke-width="3.2"/>
<path d="M690,383.8 C721,391 811.7,427 876,427 C940.3,427 1042.7,391 1076,383.8" stroke="#e0101e" stroke-width="3.0" stroke-dasharray="2.6,2.6" stroke-linecap="butt"/>
<path d="M688,482 C719.3,474.7 811.3,438 876,438 C940.7,438 1042.7,474.7 1076,482" stroke="#e0101e" stroke-width="3.0" stroke-dasharray="2.6,2.6" stroke-linecap="butt"/>
</g>
<rect x="683.3" y="383.8" width="398.60000000000014" height="98.80000000000001" fill="none" stroke="#5a5a5a" stroke-width="2.6"/>
<g stroke="#5a5a5a" stroke-width="2">
<line x1="683.3" y1="402.8" x2="689.3" y2="402.8"/>
<line x1="1081.9" y1="402.8" x2="1075.9" y2="402.8"/>
<line x1="683.3" y1="420.6" x2="686.3" y2="420.6"/>
<line x1="1081.9" y1="420.6" x2="1078.9" y2="420.6"/>
<line x1="683.3" y1="438.5" x2="689.3" y2="438.5"/>
<line x1="1081.9" y1="438.5" x2="1075.9" y2="438.5"/>
<line x1="683.3" y1="456.3" x2="686.3" y2="456.3"/>
<line x1="1081.9" y1="456.3" x2="1078.9" y2="456.3"/>
<line x1="683.3" y1="474.2" x2="689.3" y2="474.2"/>
<line x1="1081.9" y1="474.2" x2="1075.9" y2="474.2"/>
<line x1="876" y1="474.6" x2="876" y2="492.6" stroke-width="2.4"/>
</g>
<g style="font-family:'Liberation Serif','Times New Roman',serif" font-size="25" fill="#151515" text-anchor="end">
<text x="674" y="411">−1.28</text>
<text x="674" y="446.7">−1.32</text>
<text x="674" y="482.4">−1.36</text>
</g>
<text x="876" y="514" style="font-family:'Liberation Serif','Times New Roman',serif" font-size="24" font-weight="bold" fill="#151515" text-anchor="middle">K</text>
<g stroke="#b8b8b8" stroke-width="2.2">
<line x1="1355.3" y1="88.8" x2="1355.3" y2="475.8"/>
<line x1="1460.8" y1="88.8" x2="1460.8" y2="475.8"/>
</g>
<line x1="1170.8" y1="282.8" x2="1672.5" y2="282.8" stroke="#777" stroke-width="2.5" stroke-dasharray="8,7.5"/>
<defs><clipPath id="clipB"><rect x="1170.8" y="88.8" width="501.70000000000005" height="387.0"/></clipPath></defs>
<g clip-path="url(#clipB)" fill="none" stroke-linecap="round" stroke-linejoin="round">
<path d="M1171,201.6 C1175.8,201.6 1191.2,202.1 1200,201.3 C1208.8,200.5 1215.4,199.4 1223.9,196.8 C1232.4,194.2 1243,190.7 1251.2,185.8 C1259.4,180.9 1266.4,174.3 1273.1,167.6 C1279.8,160.9 1285,154.8 1291.4,145.7 C1297.8,136.6 1305.2,122.3 1311.4,112.8 C1317.6,103.3 1325.7,92.6 1328.5,88.6" stroke="#9a1020" stroke-width="4.8"/>
<path d="M1171,202 C1175.8,202.3 1189.7,201.8 1200,204 C1210.3,206.2 1222.6,211.5 1233,215 C1243.4,218.5 1253.1,221.7 1262.2,225 C1271.3,228.3 1278.9,232.2 1287.7,235.1 C1296.5,238 1306,240.7 1315.1,242.4 C1324.2,244.1 1335.7,244.7 1342.4,245.3 C1349.2,246 1351.9,245.7 1355.6,246.3 C1359.2,246.9 1361,246.3 1364.3,249 C1367.6,251.7 1370.7,255.9 1375.3,262.4 C1379.9,268.9 1387.6,281.9 1391.7,288 C1395.8,294.1 1395.6,292 1400,299 C1404.4,306 1412.1,320.1 1418.2,330.2 C1424.3,340.3 1431.6,353 1436.5,359.4 C1441.4,365.8 1443.3,366.4 1447.4,368.5 C1451.5,370.6 1456.8,372.2 1461.1,372.2 C1465.4,372.2 1469.5,370.4 1473,368.5 C1476.5,366.6 1477.5,366.2 1482.1,361 C1486.6,355.8 1494.2,345.2 1500.3,337 C1506.4,328.8 1513.7,318.5 1518.6,312 C1523.5,305.5 1524.9,304 1529.5,298 C1534.1,292 1541.7,281.9 1546,276 C1550.3,270.1 1550.5,268.3 1555.1,262.4 C1559.6,256.5 1567.8,246.1 1573.3,240.6 C1578.8,235.1 1581.8,233.6 1587.9,229.6 C1594,225.6 1603.1,220.5 1609.8,216.8 C1616.5,213.2 1622.3,210.1 1628.1,207.7 C1633.9,205.3 1637.2,203.5 1644.5,202.6 C1651.8,201.7 1667.4,202.1 1672,202" stroke="#9a1020" stroke-width="4.8"/>
<path d="M1171,317.1 C1173.7,316.4 1181.6,315.6 1187.4,312.9 C1193.2,310.2 1200.3,305.1 1205.6,301 C1210.9,296.9 1214.3,294 1219,288.5 C1223.7,283 1228.6,276 1234,268 C1239.4,260 1246.5,247.9 1251.2,240.6 C1255.9,233.3 1257.6,232 1262.2,224.1 C1266.8,216.2 1272.8,203.7 1278.6,193.1 C1284.4,182.5 1290.7,170 1296.8,160.3 C1302.9,150.6 1309,141.7 1315.1,134.7 C1321.2,127.7 1327.8,121.8 1333.3,118.3 C1338.8,114.8 1344.2,114.7 1347.9,113.8 C1351.6,112.9 1351.9,113.3 1355.6,112.8 C1359.2,112.3 1364.4,112.5 1369.8,111 C1375.2,109.5 1381.9,107 1388,103.7 C1394.1,100.4 1402.8,93.4 1406.3,90.9 C1409.8,88.4 1408.5,89 1409,88.6" stroke="#9a1020" stroke-width="4.8"/>
<path d="M1171,317.2 C1172.8,317.3 1177.7,316.4 1181.9,317.6 C1186.2,318.9 1191,321.1 1196.5,324.7 C1202,328.3 1209.1,335.1 1214.7,339.3 C1220.3,343.5 1225.7,347.6 1230,350 C1234.3,352.4 1237.3,353.5 1240.3,353.9 C1243.3,354.3 1245.6,353.4 1248,352.5 C1250.4,351.6 1251.3,352.2 1254.9,348.5 C1258.5,344.8 1264,337.2 1269.5,330.2 C1275,323.2 1282.5,313 1287.7,306.5 C1292.9,300 1295.9,296.2 1300.5,291 C1305.1,285.8 1309.6,279.3 1315.1,275.2 C1320.6,271.1 1326.5,268.1 1333.3,266.1 C1340,264.1 1348.6,263.7 1355.6,263.4 C1362.6,263.1 1368.4,263.9 1375.3,264.3 C1382.2,264.7 1388.5,265.9 1397.2,265.5 C1405.9,265.1 1416.8,263.4 1427.4,262 C1438.1,260.6 1452,256.9 1461.1,257 C1470.2,257.1 1477.1,260.5 1482.1,262.4 C1487.1,264.3 1488.2,266.4 1491.2,268.5 C1494.2,270.6 1497.2,272.3 1500.3,275 C1503.3,277.7 1504.9,280.3 1509.5,284.6 C1514.1,288.9 1521.6,294.9 1527.7,301 C1533.8,307.1 1539.9,314.1 1546,321.1 C1552.1,328.1 1558.1,335.7 1564.2,343 C1570.3,350.3 1577.8,360 1582.4,364.9 C1587,369.8 1588.5,372.5 1591.6,372.5 C1594.6,372.5 1596.2,368.9 1600.7,364.9 C1605.2,360.9 1612.8,353.7 1618.9,348.5 C1625,343.3 1631.1,338.2 1637.2,333.9 C1643.3,329.6 1649.5,325.7 1655.4,322.9 C1661.3,320.1 1669.9,318.1 1672.8,317.1" stroke="#9a1020" stroke-width="4.8"/>
<path d="M1171,441.5 C1175.2,440 1188.3,436.6 1196.5,432.4 C1204.7,428.1 1212.3,421 1220.2,416 C1228.1,411 1236.9,403.8 1243.9,402.3 C1250.9,400.8 1254.6,404.4 1262.2,406.8 C1269.8,409.2 1281.6,416.3 1289.5,416.9 C1297.4,417.5 1302.3,414.9 1309.6,410.5 C1316.9,406.1 1326.6,395.9 1333.3,390.4 C1340,384.9 1346,379.9 1349.7,377.6 C1353.4,375.3 1350.7,377.1 1355.6,376.7 C1360.5,376.2 1371.5,375.3 1378.9,374.9 C1386.3,374.4 1393.5,374.9 1400,374 C1406.5,373.1 1412.1,370.9 1418.2,369.4 C1424.3,367.9 1429.3,366.4 1436.5,364.9 C1443.7,363.4 1454.1,360.4 1461.1,360.3 C1468.1,360.2 1473.5,362 1478.5,364 C1483.5,366 1486,368.4 1491.2,372.2 C1496.4,376 1503.4,381.9 1509.5,386.8 C1515.6,391.7 1521.6,398.2 1527.7,401.4 C1533.8,404.6 1539.9,405.9 1546,405.9 C1552.1,405.9 1556.9,404.7 1564.2,401.4 C1571.5,398.1 1583.6,387.1 1589.7,385.9 C1595.8,384.7 1595.8,389.4 1600.7,394.1 C1605.6,398.8 1612.8,408 1618.9,414.1 C1625,420.2 1631.1,426.3 1637.2,430.6 C1643.3,434.9 1649.5,437.6 1655.4,439.7 C1661.3,441.8 1669.9,442.7 1672.8,443.3" stroke="#9a1020" stroke-width="4.8"/>
<path d="M1505.8,88.6 C1509.5,93.2 1521,107.3 1527.7,116.5 C1534.4,125.7 1539.9,133.9 1546,143.9 C1552.1,153.9 1558.1,164.8 1564.2,176.7 C1570.3,188.5 1578.5,206.2 1582.4,215 C1586.4,223.8 1584.9,223.2 1587.9,229.6 C1591,236 1595.5,244.8 1600.7,253.3 C1605.9,261.8 1614.3,274 1618.9,280.7 C1623.5,287.4 1623.5,289.1 1628.1,293.7 C1632.7,298.3 1638.8,304.4 1646.3,308.3 C1653.8,312.2 1668.4,315.6 1672.8,317.1" stroke="#9a1020" stroke-width="4.8"/>
<path d="M1541.5,88.6 C1543.8,94.2 1549.8,110.7 1555.1,122 C1560.4,133.3 1567.2,146.9 1573.3,156.6 C1579.4,166.3 1585.5,174.2 1591.6,180.3 C1597.7,186.4 1603.7,189.9 1609.8,193.1 C1615.9,196.3 1622.3,198 1628.1,199.5 C1633.9,201 1637.2,201.5 1644.5,201.9 C1651.8,202.3 1667.4,202 1672,202" stroke="#9a1020" stroke-width="4.8"/>
<path d="M1171,201.6 C1175.8,201.6 1191.2,202.1 1200,201.3 C1208.8,200.5 1215.4,199.4 1223.9,196.8 C1232.4,194.2 1243,190.7 1251.2,185.8 C1259.4,180.9 1266.4,174.3 1273.1,167.6 C1279.8,160.9 1285,154.8 1291.4,145.7 C1297.8,136.6 1305.2,122.3 1311.4,112.8 C1317.6,103.3 1325.7,92.6 1328.5,88.6" stroke="#2a0306" stroke-width="3.2"/>
<path d="M1171,202 C1175.8,202.3 1189.7,201.8 1200,204 C1210.3,206.2 1222.6,211.5 1233,215 C1243.4,218.5 1253.1,221.7 1262.2,225 C1271.3,228.3 1278.9,232.2 1287.7,235.1 C1296.5,238 1306,240.7 1315.1,242.4 C1324.2,244.1 1335.7,244.7 1342.4,245.3 C1349.2,246 1351.9,245.7 1355.6,246.3 C1359.2,246.9 1361,246.3 1364.3,249 C1367.6,251.7 1370.7,255.9 1375.3,262.4 C1379.9,268.9 1387.6,281.9 1391.7,288 C1395.8,294.1 1395.6,292 1400,299 C1404.4,306 1412.1,320.1 1418.2,330.2 C1424.3,340.3 1431.6,353 1436.5,359.4 C1441.4,365.8 1443.3,366.4 1447.4,368.5 C1451.5,370.6 1456.8,372.2 1461.1,372.2 C1465.4,372.2 1469.5,370.4 1473,368.5 C1476.5,366.6 1477.5,366.2 1482.1,361 C1486.6,355.8 1494.2,345.2 1500.3,337 C1506.4,328.8 1513.7,318.5 1518.6,312 C1523.5,305.5 1524.9,304 1529.5,298 C1534.1,292 1541.7,281.9 1546,276 C1550.3,270.1 1550.5,268.3 1555.1,262.4 C1559.6,256.5 1567.8,246.1 1573.3,240.6 C1578.8,235.1 1581.8,233.6 1587.9,229.6 C1594,225.6 1603.1,220.5 1609.8,216.8 C1616.5,213.2 1622.3,210.1 1628.1,207.7 C1633.9,205.3 1637.2,203.5 1644.5,202.6 C1651.8,201.7 1667.4,202.1 1672,202" stroke="#2a0306" stroke-width="3.2"/>
<path d="M1171,317.1 C1173.7,316.4 1181.6,315.6 1187.4,312.9 C1193.2,310.2 1200.3,305.1 1205.6,301 C1210.9,296.9 1214.3,294 1219,288.5 C1223.7,283 1228.6,276 1234,268 C1239.4,260 1246.5,247.9 1251.2,240.6 C1255.9,233.3 1257.6,232 1262.2,224.1 C1266.8,216.2 1272.8,203.7 1278.6,193.1 C1284.4,182.5 1290.7,170 1296.8,160.3 C1302.9,150.6 1309,141.7 1315.1,134.7 C1321.2,127.7 1327.8,121.8 1333.3,118.3 C1338.8,114.8 1344.2,114.7 1347.9,113.8 C1351.6,112.9 1351.9,113.3 1355.6,112.8 C1359.2,112.3 1364.4,112.5 1369.8,111 C1375.2,109.5 1381.9,107 1388,103.7 C1394.1,100.4 1402.8,93.4 1406.3,90.9 C1409.8,88.4 1408.5,89 1409,88.6" stroke="#2a0306" stroke-width="3.2"/>
<path d="M1171,317.2 C1172.8,317.3 1177.7,316.4 1181.9,317.6 C1186.2,318.9 1191,321.1 1196.5,324.7 C1202,328.3 1209.1,335.1 1214.7,339.3 C1220.3,343.5 1225.7,347.6 1230,350 C1234.3,352.4 1237.3,353.5 1240.3,353.9 C1243.3,354.3 1245.6,353.4 1248,352.5 C1250.4,351.6 1251.3,352.2 1254.9,348.5 C1258.5,344.8 1264,337.2 1269.5,330.2 C1275,323.2 1282.5,313 1287.7,306.5 C1292.9,300 1295.9,296.2 1300.5,291 C1305.1,285.8 1309.6,279.3 1315.1,275.2 C1320.6,271.1 1326.5,268.1 1333.3,266.1 C1340,264.1 1348.6,263.7 1355.6,263.4 C1362.6,263.1 1368.4,263.9 1375.3,264.3 C1382.2,264.7 1388.5,265.9 1397.2,265.5 C1405.9,265.1 1416.8,263.4 1427.4,262 C1438.1,260.6 1452,256.9 1461.1,257 C1470.2,257.1 1477.1,260.5 1482.1,262.4 C1487.1,264.3 1488.2,266.4 1491.2,268.5 C1494.2,270.6 1497.2,272.3 1500.3,275 C1503.3,277.7 1504.9,280.3 1509.5,284.6 C1514.1,288.9 1521.6,294.9 1527.7,301 C1533.8,307.1 1539.9,314.1 1546,321.1 C1552.1,328.1 1558.1,335.7 1564.2,343 C1570.3,350.3 1577.8,360 1582.4,364.9 C1587,369.8 1588.5,372.5 1591.6,372.5 C1594.6,372.5 1596.2,368.9 1600.7,364.9 C1605.2,360.9 1612.8,353.7 1618.9,348.5 C1625,343.3 1631.1,338.2 1637.2,333.9 C1643.3,329.6 1649.5,325.7 1655.4,322.9 C1661.3,320.1 1669.9,318.1 1672.8,317.1" stroke="#2a0306" stroke-width="3.2"/>
<path d="M1171,441.5 C1175.2,440 1188.3,436.6 1196.5,432.4 C1204.7,428.1 1212.3,421 1220.2,416 C1228.1,411 1236.9,403.8 1243.9,402.3 C1250.9,400.8 1254.6,404.4 1262.2,406.8 C1269.8,409.2 1281.6,416.3 1289.5,416.9 C1297.4,417.5 1302.3,414.9 1309.6,410.5 C1316.9,406.1 1326.6,395.9 1333.3,390.4 C1340,384.9 1346,379.9 1349.7,377.6 C1353.4,375.3 1350.7,377.1 1355.6,376.7 C1360.5,376.2 1371.5,375.3 1378.9,374.9 C1386.3,374.4 1393.5,374.9 1400,374 C1406.5,373.1 1412.1,370.9 1418.2,369.4 C1424.3,367.9 1429.3,366.4 1436.5,364.9 C1443.7,363.4 1454.1,360.4 1461.1,360.3 C1468.1,360.2 1473.5,362 1478.5,364 C1483.5,366 1486,368.4 1491.2,372.2 C1496.4,376 1503.4,381.9 1509.5,386.8 C1515.6,391.7 1521.6,398.2 1527.7,401.4 C1533.8,404.6 1539.9,405.9 1546,405.9 C1552.1,405.9 1556.9,404.7 1564.2,401.4 C1571.5,398.1 1583.6,387.1 1589.7,385.9 C1595.8,384.7 1595.8,389.4 1600.7,394.1 C1605.6,398.8 1612.8,408 1618.9,414.1 C1625,420.2 1631.1,426.3 1637.2,430.6 C1643.3,434.9 1649.5,437.6 1655.4,439.7 C1661.3,441.8 1669.9,442.7 1672.8,443.3" stroke="#2a0306" stroke-width="3.2"/>
<path d="M1505.8,88.6 C1509.5,93.2 1521,107.3 1527.7,116.5 C1534.4,125.7 1539.9,133.9 1546,143.9 C1552.1,153.9 1558.1,164.8 1564.2,176.7 C1570.3,188.5 1578.5,206.2 1582.4,215 C1586.4,223.8 1584.9,223.2 1587.9,229.6 C1591,236 1595.5,244.8 1600.7,253.3 C1605.9,261.8 1614.3,274 1618.9,280.7 C1623.5,287.4 1623.5,289.1 1628.1,293.7 C1632.7,298.3 1638.8,304.4 1646.3,308.3 C1653.8,312.2 1668.4,315.6 1672.8,317.1" stroke="#2a0306" stroke-width="3.2"/>
<path d="M1541.5,88.6 C1543.8,94.2 1549.8,110.7 1555.1,122 C1560.4,133.3 1567.2,146.9 1573.3,156.6 C1579.4,166.3 1585.5,174.2 1591.6,180.3 C1597.7,186.4 1603.7,189.9 1609.8,193.1 C1615.9,196.3 1622.3,198 1628.1,199.5 C1633.9,201 1637.2,201.5 1644.5,201.9 C1651.8,202.3 1667.4,202 1672,202" stroke="#2a0306" stroke-width="3.2"/>
</g>
<path d="M1197,205.9 A18,18 0 0 0 1195.9,194.2" fill="none" stroke="#4a7c30" stroke-width="4.6" stroke-linecap="round"/>
<path d="M1188.5,185.9 A18,18 0 0 0 1175.8,183.9" fill="none" stroke="#4a7c30" stroke-width="4.6" stroke-linecap="round"/>
<path d="M1165.3,190.4 A18,18 0 0 0 1167,214.4" fill="none" stroke="#4a7c30" stroke-width="4.6" stroke-linecap="round"/>
<path d="M1177.9,219.4 A18,18 0 0 0 1189.3,216.6" fill="none" stroke="#4a7c30" stroke-width="4.6" stroke-linecap="round"/>
<path d="M1197,320.4 A18,18 0 0 0 1195.9,308.7" fill="none" stroke="#4a7c30" stroke-width="4.6" stroke-linecap="round"/>
<path d="M1188.5,300.4 A18,18 0 0 0 1175.8,298.4" fill="none" stroke="#4a7c30" stroke-width="4.6" stroke-linecap="round"/>
<path d="M1165.3,304.9 A18,18 0 0 0 1167,328.9" fill="none" stroke="#4a7c30" stroke-width="4.6" stroke-linecap="round"/>
<path d="M1177.9,333.9 A18,18 0 0 0 1189.3,331.1" fill="none" stroke="#4a7c30" stroke-width="4.6" stroke-linecap="round"/>
<path d="M1681.1,204.4 A18,18 0 0 0 1680,192.7" fill="none" stroke="#4a7c30" stroke-width="4.6" stroke-linecap="round"/>
<path d="M1672.6,184.4 A18,18 0 0 0 1659.9,182.4" fill="none" stroke="#4a7c30" stroke-width="4.6" stroke-linecap="round"/>
<path d="M1649.4,188.9 A18,18 0 0 0 1651.1,212.9" fill="none" stroke="#4a7c30" stroke-width="4.6" stroke-linecap="round"/>
<path d="M1662,217.9 A18,18 0 0 0 1673.4,215.1" fill="none" stroke="#4a7c30" stroke-width="4.6" stroke-linecap="round"/>
<path d="M1682.1,320.9 A18,18 0 0 0 1681,309.2" fill="none" stroke="#4a7c30" stroke-width="4.6" stroke-linecap="round"/>
<path d="M1673.6,300.9 A18,18 0 0 0 1660.9,298.9" fill="none" stroke="#4a7c30" stroke-width="4.6" stroke-linecap="round"/>
<path d="M1650.4,305.4 A18,18 0 0 0 1652.1,329.4" fill="none" stroke="#4a7c30" stroke-width="4.6" stroke-linecap="round"/>
<path d="M1663,334.4 A18,18 0 0 0 1674.4,331.6" fill="none" stroke="#4a7c30" stroke-width="4.6" stroke-linecap="round"/>
<rect x="1170.8" y="88.8" width="501.70000000000005" height="387.0" fill="none" stroke="#3a3a3a" stroke-width="2.6"/>
<g stroke="#333" stroke-width="2">
<line x1="1170.8" y1="475.7" x2="1178.8" y2="475.7"/>
<line x1="1672.5" y1="475.7" x2="1664.5" y2="475.7"/>
<line x1="1170.8" y1="443.4" x2="1174.8" y2="443.4"/>
<line x1="1672.5" y1="443.4" x2="1668.5" y2="443.4"/>
<line x1="1170.8" y1="411.2" x2="1178.8" y2="411.2"/>
<line x1="1672.5" y1="411.2" x2="1664.5" y2="411.2"/>
<line x1="1170.8" y1="379" x2="1174.8" y2="379"/>
<line x1="1672.5" y1="379" x2="1668.5" y2="379"/>
<line x1="1170.8" y1="346.8" x2="1178.8" y2="346.8"/>
<line x1="1672.5" y1="346.8" x2="1664.5" y2="346.8"/>
<line x1="1170.8" y1="314.5" x2="1174.8" y2="314.5"/>
<line x1="1672.5" y1="314.5" x2="1668.5" y2="314.5"/>
<line x1="1170.8" y1="282.3" x2="1178.8" y2="282.3"/>
<line x1="1672.5" y1="282.3" x2="1664.5" y2="282.3"/>
<line x1="1170.8" y1="250.1" x2="1174.8" y2="250.1"/>
<line x1="1672.5" y1="250.1" x2="1668.5" y2="250.1"/>
<line x1="1170.8" y1="217.9" x2="1178.8" y2="217.9"/>
<line x1="1672.5" y1="217.9" x2="1664.5" y2="217.9"/>
<line x1="1170.8" y1="185.6" x2="1174.8" y2="185.6"/>
<line x1="1672.5" y1="185.6" x2="1668.5" y2="185.6"/>
<line x1="1170.8" y1="153.4" x2="1178.8" y2="153.4"/>
<line x1="1672.5" y1="153.4" x2="1664.5" y2="153.4"/>
<line x1="1170.8" y1="121.2" x2="1174.8" y2="121.2"/>
<line x1="1672.5" y1="121.2" x2="1668.5" y2="121.2"/>
<line x1="1170.8" y1="88.9" x2="1178.8" y2="88.9"/>
<line x1="1672.5" y1="88.9" x2="1664.5" y2="88.9"/>
<line x1="1355.3" y1="475.8" x2="1355.3" y2="467.8"/>
<line x1="1460.8" y1="475.8" x2="1460.8" y2="467.8"/>
</g>
<g style="font-family:'Liberation Serif','Times New Roman',serif" font-size="25.5" fill="#151515" text-anchor="end">
<text x="1158.5" y="97.9">3</text>
<text x="1158.5" y="162.4">2</text>
<text x="1158.5" y="226.9">1</text>
<text x="1158.5" y="291.3">0</text>
<text x="1158.5" y="355.8">−1</text>
<text x="1158.5" y="420.2">−2</text>
<text x="1158.5" y="484.7">−3</text>
</g>
<g style="font-family:'Liberation Serif','Times New Roman',serif" font-size="27.5" fill="#151515" text-anchor="middle">
<text x="1172" y="510.6">Γ</text>
<text x="1355.3" y="510.6">M</text>
<text x="1461.8" y="510.6">K</text>
<text x="1675" y="510.6">Γ</text>
</g>
<text x="1129" y="274" transform="rotate(-90 1129 274)" style="font-family:'Liberation Serif','Times New Roman',serif" font-size="31.5" fill="#151515" text-anchor="middle">Energy (eV)</text>
<text x="1184" y="71.5" style="font-family:'Liberation Serif','Times New Roman',serif" font-size="41" fill="#151515" letter-spacing="3.5">(b)</text>
<defs><clipPath id="clip1747_104"><rect x="1747.1" y="104" width="334.7000000000003" height="139.3"/></clipPath></defs>
<g clip-path="url(#clip1747_104)" fill="none" stroke-linecap="round" stroke-linejoin="round">
<path d="M1747.1,165.8 C1802.9,165.8 2026,165.8 2081.8,165.8" stroke="#000" stroke-width="3.6"/>
<path d="M1747.1,183.2 C1752.6,182.2 1767.8,179.2 1780,177 C1792.2,174.8 1807,171.9 1820.3,170.2 C1833.6,168.5 1846.7,167.7 1860,167 C1873.3,166.3 1887.1,165.8 1900.4,165.8 C1913.7,165.8 1928.3,166.3 1940,167 C1951.7,167.7 1957.1,168.3 1970.6,170.2 C1984,172.1 2002.2,175 2020.7,178.2 C2039.2,181.4 2071.6,187.4 2081.8,189.2" stroke="#000" stroke-width="3.6"/>
<path d="M1749,128.1 C1760.8,127.2 1794.8,124.3 1820,123 C1845.2,121.7 1873.7,120.2 1900.4,120.1 C1927.1,120 1949.9,120.8 1980,122.5 C2010.1,124.2 2064.2,128.8 2081,130.1" stroke="#e0101e" stroke-width="3.6" stroke-dasharray="3,5.4" stroke-linecap="butt"/>
<path d="M1749,227.3 C1760.8,226.3 1794.8,223 1820,221.5 C1845.2,220 1873.7,218.4 1900.4,218.3 C1927.1,218.2 1949.9,219 1980,221 C2010.1,223 2064.2,228.8 2081,230.3" stroke="#e0101e" stroke-width="3.6" stroke-dasharray="3,5.4" stroke-linecap="butt"/>
</g>
<rect x="1747.1" y="104" width="334.7000000000003" height="139.3" fill="none" stroke="#262626" stroke-width="2.6"/>
<g stroke="#262626" stroke-width="2">
<line x1="1747.1" y1="128.1" x2="1752.1" y2="128.1"/>
<line x1="2081.8" y1="128.1" x2="2076.8" y2="128.1"/>
<line x1="1747.1" y1="151" x2="1750.1" y2="151"/>
<line x1="2081.8" y1="151" x2="2078.8" y2="151"/>
<line x1="1747.1" y1="174.2" x2="1752.1" y2="174.2"/>
<line x1="2081.8" y1="174.2" x2="2076.8" y2="174.2"/>
<line x1="1747.1" y1="197" x2="1750.1" y2="197"/>
<line x1="2081.8" y1="197" x2="2078.8" y2="197"/>
<line x1="1747.1" y1="220.3" x2="1752.1" y2="220.3"/>
<line x1="2081.8" y1="220.3" x2="2076.8" y2="220.3"/>
<line x1="1900.4" y1="235.3" x2="1900.4" y2="253.3" stroke-width="2.4"/>
</g>
<g style="font-family:'Liberation Serif','Times New Roman',serif" font-size="24" fill="#151515" text-anchor="end">
<text x="1735" y="136.5">1.28</text>
<text x="1735" y="182.6">1.26</text>
<text x="1735" y="228.7">1.24</text>
</g>
<text x="1900.4" y="278" style="font-family:'Liberation Serif','Times New Roman',serif" font-size="27" font-weight="bold" fill="#151515" text-anchor="middle">Γ</text>
<defs><clipPath id="clip1750_302"><rect x="1750.1" y="302" width="334.7000000000003" height="154"/></clipPath></defs>
<g clip-path="url(#clip1750_302)" fill="none" stroke-linecap="round" stroke-linejoin="round">
<path d="M1750.1,352.1 L1806.3,366.2 L1850,371.5 L1898.4,375.2 L1940,378 L1978.6,381.2 L2020,391 L2056.8,400.2 L2084.8,411.3" stroke="#000" stroke-width="4"/>
<path d="M1750.1,398.2 L1806.3,384.2 L1850,379 L1898.4,375.2 L1940,372.5 L1978.6,369.2 L2020,360 L2056.8,351.1 L2084.8,341.1" stroke="#000" stroke-width="4"/>
<path d="M1751,317.1 C1760.2,317.8 1781.7,320.3 1806.3,321.1 C1830.9,321.9 1869.7,322.1 1898.4,322.1 C1927.1,322.1 1956.7,321.6 1978.6,321.1 C2000.5,320.6 2017,319.8 2030,319 C2043,318.2 2047.8,317.6 2056.8,316.1 C2065.8,314.6 2079.5,311.1 2084,310.1" stroke="#e0101e" stroke-width="3.8" stroke-dasharray="4.2,2.6" stroke-linecap="butt"/>
<path d="M1751,435.3 C1760.2,434.4 1781.7,430.8 1806.3,429.8 C1830.9,428.8 1869.7,429.2 1898.4,429.3 C1927.1,429.4 1956.7,429.5 1978.6,430.3 C2000.5,431.1 2017,433 2030,434 C2043,435 2047.8,435.1 2056.8,436.3 C2065.8,437.5 2079.5,440.5 2084,441.3" stroke="#e0101e" stroke-width="3.8" stroke-dasharray="4.2,2.6" stroke-linecap="butt"/>
</g>
<rect x="1750.1" y="302" width="334.7000000000003" height="154" fill="none" stroke="#262626" stroke-width="2.6"/>
<g stroke="#262626" stroke-width="2">
<line x1="1750.1" y1="302" x2="1755.1" y2="302"/>
<line x1="2084.8" y1="302" x2="2079.8" y2="302"/>
<line x1="1750.1" y1="333" x2="1753.1" y2="333"/>
<line x1="2084.8" y1="333" x2="2081.8" y2="333"/>
<line x1="1750.1" y1="364.2" x2="1755.1" y2="364.2"/>
<line x1="2084.8" y1="364.2" x2="2079.8" y2="364.2"/>
<line x1="1750.1" y1="394" x2="1753.1" y2="394"/>
<line x1="2084.8" y1="394" x2="2081.8" y2="394"/>
<line x1="1750.1" y1="424.3" x2="1755.1" y2="424.3"/>
<line x1="2084.8" y1="424.3" x2="2079.8" y2="424.3"/>
<line x1="1898.4" y1="448" x2="1898.4" y2="466" stroke-width="2.4"/>
</g>
<g style="font-family:'Liberation Serif','Times New Roman',serif" font-size="24" fill="#151515" text-anchor="end">
<text x="1737" y="311">−0.48</text>
<text x="1737" y="373">−0.52</text>
<text x="1737" y="433.3">−0.56</text>
</g>
<text x="1898.4" y="489" style="font-family:'Liberation Serif','Times New Roman',serif" font-size="27" font-weight="bold" fill="#151515" text-anchor="middle">Γ</text>
<defs><clipPath id="clipC"><rect x="113" y="645.8" width="559.7" height="446.4000000000001"/></clipPath></defs>
<line x1="113" y1="649.8" x2="113" y2="1088.2" stroke="#161616" stroke-width="3.5"/>
<line x1="672.7" y1="649.8" x2="672.7" y2="1088.2" stroke="#161616" stroke-width="3.5"/>
<g clip-path="url(#clipC)" fill="none" stroke-linecap="round" stroke-linejoin="round">
<path d="M113,870.6 C114.2,870.9 116.5,870.7 120,872.2 C123.5,873.7 127.9,876.1 134.3,879.6 C140.7,883.1 150.5,888.5 158.6,893 C166.7,897.5 175.9,902.8 183,906.4 C190.1,910 198.2,913.5 201.2,914.9 L201.8,738.5 " stroke="#5a5ad8" stroke-width="1.8"/>
<path d="M201.4,914 L202.2,738.5" stroke="#5a5ad8" stroke-width="1.8"/>
<path d="M202.4,738.5 L206.4,741 L210.4,743.5 L214.4,745.9 L218.4,748.2 L222.4,750.4 L226.4,752.5 L230.4,754.6 L234.4,756.5 L238.4,758.5 L242.4,760.3 L246.4,762.1 L250.4,763.8 L254.4,765.5 L258.4,767.1 L262.4,768.7 L266.4,770.2 L270.4,771.6 L274.4,773 L278.4,774.3 L282.4,775.6 L286.4,776.9 L290.4,778.1 L294.4,779.3 L298.4,780.4 L302.4,781.5 L306.4,782.6 L310.4,783.6 L314.4,784.6 L318.4,785.5 L322.4,786.4 L326.4,787.3 L330.4,788.2 L334.4,789 L338.4,789.8 L342.4,790.6 L346.4,791.3 L350.4,792 L354.4,792.7 L358.4,793.4 L362.4,794 L366.4,794.6 L370.4,795.2 L374.4,795.8 L378.4,796.4 L382.4,796.9 L386.4,797.4 L390.4,797.9 L394.4,798.4 L398.4,798.9 L402.4,799.4 L406.4,799.8 L410.4,800.2 L414.4,800.6 L418.4,801 L422.4,801.4 L426.4,801.8 L430.4,802.1 L434.4,802.5 L438.4,802.8 L442.4,803.1 L446.4,803.4 L450.4,803.7 L454.4,804 L458.4,804.3 L462.4,804.5 L466.4,804.8 L470.4,805 L474.4,805.3 L478.4,805.5 L482.4,805.7 L486.4,806 L490.4,806.2 L494.4,806.4 L498.4,806.6 L502.4,806.8 L506.4,806.9 L510.4,807.1 L514.4,807.3 L518.4,807.4 L522.4,807.6 L526.4,807.8 L530.4,807.9 L534.4,808 L538.4,808.2 L542.4,808.3 L546.4,808.4 L550.4,808.6 L554.4,808.7 L558.4,808.8 L562.4,808.9 L566.4,809 L570.4,809.1 L574.4,809.2 L578.4,809.3 L582.4,809.4 L586.4,809.5 L590.4,809.6 L594.4,809.7 L598.4,809.7 L602.4,809.8 L606.4,809.9 L610.4,810 L614.4,810 L618.4,810.1 L622.4,810.2 L626.4,810.2 L630.4,810.3 L634.4,810.4 L638.4,810.4 L642.4,810.5 L646.4,810.5 L650.4,810.6 L654.4,810.6 L658.4,810.7 L662.4,810.7 L666.4,810.8 L670.4,810.8" stroke="#5a5ad8" stroke-width="1.8"/>
<path d="M113,650 C113.7,650.4 113.8,646.9 117.3,652.5 C120.8,658.1 128.6,672.5 134.3,683.8 C140,695.1 145.7,708.1 151.4,720.3 C157.1,732.5 162.7,745 168.4,756.8 C174.1,768.5 180.1,780.3 185.4,790.8 C190.7,801.3 195.1,810.7 200,820 C204.9,829.3 209.3,838.3 214.6,846.8 C219.9,855.3 225.5,863.8 231.6,871.1 C237.7,878.4 243.8,884.4 251.1,890.5 C258.4,896.6 268.7,903.5 275.4,907.6 C282.1,911.7 284.9,912.4 291.4,915 C297.9,917.6 302.8,920 314.2,923.5 C325.6,927 344.7,932.2 359.9,936 C375.1,939.8 390.4,943.4 405.6,946.5 C420.8,949.6 436.1,952.3 451.3,954.8 C466.5,957.3 481.8,959.5 497,961.6 C512.2,963.7 527.5,965.7 542.7,967.4 C557.9,969.1 573.2,970.8 588.4,971.9 C603.6,973 620.1,973.8 634.1,974.2 C648.1,974.6 666.1,974.4 672.5,974.4" stroke="#ea0a10" stroke-width="7.4"/>
<path d="M113,1088.5 C114.7,1087.1 117.8,1084.9 122.9,1080.1 C128,1075.3 136,1066.6 143.8,1059.6 C151.7,1052.5 161.3,1045.7 170,1037.8 C178.7,1029.9 188.7,1019.4 196.1,1012.1 C203.5,1004.8 208.9,999.3 214.4,993.8 C219.9,988.3 223.8,983.6 229,979 C234.2,974.4 240.2,969.4 245.7,966 C251.2,962.6 256.3,960.6 262,958.5 C267.7,956.4 273.7,954.7 280,953.5 C286.3,952.3 290.5,951.8 300,951.2 C309.5,950.7 323.3,950.2 337.1,950.2 C350.9,950.2 371.4,950.8 382.8,951.4 C394.2,952 398,952.8 405.6,953.7 C413.2,954.7 420.9,956.1 428.5,957.1 C436.1,958.1 439.9,958.9 451.3,960 C462.7,961.1 481.8,962.6 497,964 C512.2,965.4 527.5,967.1 542.7,968.5 C557.9,969.9 573.2,971.3 588.4,972.3 C603.6,973.3 620.1,974 634.1,974.4 C648.1,974.8 666.1,974.4 672.5,974.4" stroke="#ea0a10" stroke-width="7.4"/>
</g>
<line x1="113" y1="649.8" x2="672.7" y2="649.8" stroke="#c8404e" stroke-width="8.5" stroke-linecap="round"/>
<line x1="113" y1="649.8" x2="672.7" y2="649.8" stroke="#3a0205" stroke-width="5"/>
<line x1="113" y1="1088.2" x2="672.7" y2="1088.2" stroke="#c8404e" stroke-width="8.5" stroke-linecap="round"/>
<line x1="113" y1="1088.2" x2="672.7" y2="1088.2" stroke="#3a0205" stroke-width="5"/>
<line x1="672.7" y1="868.5" x2="666.7" y2="868.5" stroke="#111" stroke-width="2"/>
<line x1="113" y1="868.5" x2="119" y2="868.5" stroke="#111" stroke-width="2"/>
<g style="font-family:'Liberation Serif','Times New Roman',serif" font-size="32" fill="#151515">
<text x="93" y="660.5" text-anchor="end">1</text>
<text x="94" y="880" text-anchor="end">0.5</text>
<text x="93" y="1099.5" text-anchor="end">0</text>
<text x="117" y="1139" text-anchor="middle" font-size="33">0.0</text>
<text x="678" y="1139" text-anchor="middle" font-size="33">0.5</text>
</g>
<text x="0" y="0" transform="translate(35.6 869) rotate(-90) scale(1 1.1)" style="font-family:'Liberation Serif','Times New Roman',serif" font-size="32" fill="#151515" text-anchor="middle">WCC</text>
<text x="83" y="597" style="font-family:'Liberation Serif','Times New Roman',serif" font-size="37.5" fill="#151515" letter-spacing="4.5">(c)</text>
<text x="504" y="745" style="font-family:'Liberation Serif','Times New Roman',serif" font-size="33" fill="#151515">Z<tspan font-size="25" dy="9" dx="1">2</tspan><tspan dy="-9" dx="2" letter-spacing="2">=1</tspan></text>
<defs><clipPath id="clipD"><rect x="808.6" y="613.8" width="468.4" height="471.4000000000001"/></clipPath><filter id="blD" x="-0.1" y="-0.1" width="1.2" height="1.2"><feGaussianBlur stdDeviation="2"/></filter><filter id="blDp" x="-0.1" y="-0.1" width="1.2" height="1.2"><feGaussianBlur stdDeviation="3.2"/></filter><filter id="blD3" x="-0.2" y="-0.2" width="1.4" height="1.4"><feGaussianBlur stdDeviation="3.5"/></filter><filter id="blD2" x="-0.3" y="-0.3" width="1.6" height="1.6"><feGaussianBlur stdDeviation="6"/></filter><filter id="blD1" x="-0.1" y="-0.1" width="1.2" height="1.2"><feGaussianBlur stdDeviation="0.9"/></filter><linearGradient id="gA" x1="0" y1="613" x2="0" y2="860" gradientUnits="userSpaceOnUse"><stop offset="0" stop-color="#466efc"/><stop offset="0.4" stop-color="#4a72fb"/><stop offset="0.7" stop-color="#6c8ef6"/><stop offset="0.9" stop-color="#a9bcf5"/><stop offset="1" stop-color="#dbe3fa"/></linearGradient><linearGradient id="gB" x1="0" y1="850" x2="0" y2="1000" gradientUnits="userSpaceOnUse"><stop offset="0" stop-color="#9cb2f7"/><stop offset="0.14" stop-color="#7f9cf7"/><stop offset="0.4" stop-color="#7896f8"/><stop offset="1" stop-color="#819cf5"/></linearGradient><linearGradient id="gPU" x1="908" y1="0" x2="1042" y2="0" gradientUnits="userSpaceOnUse"><stop offset="0" stop-color="#fdf3f5"/><stop offset="0.6" stop-color="#fde6e9"/><stop offset="1" stop-color="#fcdde0"/></linearGradient><linearGradient id="gPUr" x1="1177" y1="0" x2="1042" y2="0" gradientUnits="userSpaceOnUse"><stop offset="0" stop-color="#fdf3f5"/><stop offset="0.6" stop-color="#fde6e9"/><stop offset="1" stop-color="#fcdde0"/></linearGradient></defs>
<g clip-path="url(#clipD)">
<rect x="808.6" y="613.8" width="468.4" height="471.4000000000001" fill="#f0f2fc"/>
<g filter="url(#blDp)">
<path d="M898,600 L1042.5,600 L1042.5,800 L1030,795 L999.9,773.8 L978,749.5 L952.5,713 L935.4,676.5 L918.4,640 L905,612Z" fill="url(#gPU)"/>
<path d="M800,1000 L850,1008 L877,986 L913,936 L940,910 L1000,850 L1034,815 L1042.5,815 L1042.5,1095 L800,1095Z" fill="#fad1d4"/>
<path d="M800,996 L850,1005 L877,984 L912,936 L880,1000 L860,1020 L800,1020Z" fill="#fbdde0"/>
<path d="M912,936 L930,935 L948,950 L945,1010 L936,1095 L902,1095 L904,1010Z" fill="#fce6e8"/>
<path d="M1042.5,810 L1036,812 L1000,848 L960,890 L932,926 L960,925 L1000,900 L1030,880 L1042.5,876Z" fill="#f8c3c6"/>
<path d="M1042.5,942 L1016,995 L978,1095 L1042.5,1095Z" fill="#fcf2f4"/>
<path d="M800,600 L854,600 L867.6,672.6 L878,724.7 L888.4,797.7 L892,815 L880,832 L800,850Z" fill="url(#gA)"/>
<path d="M800,880 L835,876 L862,867 L882,857 L897,849 L906,890 L913,927 L885.8,965.5 L854.2,1000 L800,993Z" fill="url(#gB)"/>
<path d="M1187,600 L1042.5,600 L1042.5,800 L1055,795 L1085.1,773.8 L1107,749.5 L1132.5,713 L1149.6,676.5 L1166.6,640 L1180,612Z" fill="url(#gPUr)"/>
<path d="M1285,1000 L1235,1008 L1208,986 L1172,936 L1145,910 L1085,850 L1051,815 L1042.5,815 L1042.5,1095 L1285,1095Z" fill="#fad1d4"/>
<path d="M1285,996 L1235,1005 L1208,984 L1173,936 L1205,1000 L1225,1020 L1285,1020Z" fill="#fbdde0"/>
<path d="M1173,936 L1155,935 L1137,950 L1140,1010 L1149,1095 L1183,1095 L1181,1010Z" fill="#fce6e8"/>
<path d="M1042.5,810 L1049,812 L1085,848 L1125,890 L1153,926 L1125,925 L1085,900 L1055,880 L1042.5,876Z" fill="#f8c3c6"/>
<path d="M1042.5,942 L1069,995 L1107,1095 L1042.5,1095Z" fill="#fcf2f4"/>
<path d="M1285,600 L1231,600 L1217.4,672.6 L1207,724.7 L1196.6,797.7 L1193,815 L1205,832 L1285,850Z" fill="url(#gA)"/>
<path d="M1285,880 L1250,876 L1223,867 L1203,857 L1188,849 L1179,890 L1172,927 L1199.2,965.5 L1230.8,1000 L1285,993Z" fill="url(#gB)"/>
</g>
<g filter="url(#blD2)">
<path d="M800,1012 L850,1016 L868,1050 L872,1095 L800,1095Z" fill="#f4a0a3"/>
<path d="M1285,1012 L1235,1016 L1217,1050 L1213,1095 L1285,1095Z" fill="#f4a0a3"/>
</g>
<path d="M800,869 C801.6,868.8 805.4,868.8 809.6,868 C813.8,867.2 820,866 825,864.5 C830,863 835.1,861 839.3,859 C843.5,857 846.2,854.9 850,852.5 C853.8,850.1 858.3,846.9 862.1,844.5 C865.9,842.1 869.2,840.2 873,838 C876.8,835.8 879.2,834 885,831.4 C890.8,828.8 898.3,825.3 907.8,822.3 C917.3,819.2 930.7,815.8 942.1,813.1 C953.5,810.4 965,807.9 976.4,806.3 C987.8,804.6 999.6,803.7 1010.6,803.2 C1021.6,802.7 1031.9,803.4 1042.5,803.4 C1053.1,803.4 1063.4,802.7 1074.4,803.2 C1085.4,803.7 1097.2,804.6 1108.6,806.3 C1120,807.9 1131.5,810.4 1142.9,813.1 C1154.3,815.8 1167.7,819.2 1177.2,822.3 C1186.7,825.3 1194.2,828.8 1200,831.4 C1205.8,834 1208.2,835.8 1212,838 C1215.8,840.2 1219.1,842.1 1222.9,844.5 C1226.7,846.9 1231.2,850.1 1235,852.5 C1238.8,854.9 1241.5,857 1245.7,859 C1249.9,861 1255,863 1260,864.5 C1265,866 1271.2,867.2 1275.4,868 C1279.6,868.8 1283.4,868.8 1285,869" fill="none" stroke="#ffffff" stroke-width="19" filter="url(#blD3)" opacity="0.9"/>
<path d="M856.5,600 C858.8,612 866.4,651.2 870.5,672 C874.6,692.8 877.5,704.5 881,725 C884.5,745.5 889.8,783.3 891.5,795" fill="none" stroke="#fff" stroke-width="6" filter="url(#blD1)" opacity="0.9"/>
<path d="M899,600 C900,602 901.8,605.3 905,612 C908.2,618.7 913.3,629.2 918.4,640 C923.5,650.8 929.7,664.3 935.4,676.5 C941.1,688.7 945.4,700.8 952.5,713 C959.6,725.2 970.1,739.4 978,749.5 C985.9,759.6 991.2,766.2 999.9,773.8 C1008.6,781.4 1022.9,790.5 1030,795 C1037.1,799.5 1040.4,800 1042.5,801" fill="none" stroke="#fff" stroke-width="6" filter="url(#blD)"/>
<path d="M902,850 C903,856.7 905.8,876.7 908,890 C910.2,903.3 918,917.7 915,930 C912,942.3 899.5,952 890,964 C880.5,976 863.3,995.7 858,1002" fill="none" stroke="#fff" stroke-width="12" filter="url(#blD3)" opacity="0.95"/>
<path d="M800,995 C801.5,995.4 804,996 809,997.2 C814,998.4 823.2,1000.5 830,1002 C836.8,1003.5 844.4,1006.9 849.7,1006.2 C855,1005.5 857.9,1001 862,998 C866.1,995 872.4,989.8 874.5,988.1" fill="none" stroke="#ef7075" stroke-width="2.4" filter="url(#blD1)"/>
<path d="M1228.5,600 C1226.2,612 1218.6,651.2 1214.5,672 C1210.4,692.8 1207.5,704.5 1204,725 C1200.5,745.5 1195.2,783.3 1193.5,795" fill="none" stroke="#fff" stroke-width="6" filter="url(#blD1)" opacity="0.9"/>
<path d="M1186,600 C1185,602 1183.2,605.3 1180,612 C1176.8,618.7 1171.7,629.2 1166.6,640 C1161.5,650.8 1155.3,664.3 1149.6,676.5 C1143.9,688.7 1139.6,700.8 1132.5,713 C1125.4,725.2 1114.9,739.4 1107,749.5 C1099.1,759.6 1093.8,766.2 1085.1,773.8 C1076.4,781.4 1062.1,790.5 1055,795 C1047.9,799.5 1044.6,800 1042.5,801" fill="none" stroke="#fff" stroke-width="6" filter="url(#blD)"/>
<path d="M1183,850 C1182,856.7 1179.2,876.7 1177,890 C1174.8,903.3 1167,917.7 1170,930 C1173,942.3 1185.5,952 1195,964 C1204.5,976 1221.7,995.7 1227,1002" fill="none" stroke="#fff" stroke-width="12" filter="url(#blD3)" opacity="0.95"/>
<path d="M1285,995 C1283.5,995.4 1281,996 1276,997.2 C1271,998.4 1261.8,1000.5 1255,1002 C1248.2,1003.5 1240.6,1006.9 1235.3,1006.2 C1230,1005.5 1227.1,1001 1223,998 C1218.9,995 1212.6,989.8 1210.5,988.1" fill="none" stroke="#ef7075" stroke-width="2.4" filter="url(#blD1)"/>
<path d="M930,922 C932.2,920.8 934.7,919.3 943,914.8 C951.3,910.3 968.8,901.1 980,895 C991.2,888.9 1001.7,882.3 1010,878 C1018.3,873.7 1024.6,870.8 1030,869 C1035.4,867.2 1038.3,867.5 1042.5,867.5 C1046.7,867.5 1049.6,867.2 1055,869 C1060.4,870.8 1066.7,873.7 1075,878 C1083.3,882.3 1093.8,888.9 1105,895 C1116.2,901.1 1133.7,910.3 1142,914.8 C1150.3,919.3 1152.8,920.8 1155,922" fill="none" stroke="#fff" stroke-width="2.2" opacity="0.85" filter="url(#blD1)"/>
<g filter="url(#blD1)" fill="none">
<path d="M800,869 C801.6,868.8 805.4,868.8 809.6,868 C813.8,867.2 820,866 825,864.5 C830,863 835.1,861 839.3,859 C843.5,857 846.2,854.9 850,852.5 C853.8,850.1 858.3,846.9 862.1,844.5 C865.9,842.1 869.2,840.2 873,838 C876.8,835.8 879.2,834 885,831.4 C890.8,828.8 898.3,825.3 907.8,822.3 C917.3,819.2 930.7,815.8 942.1,813.1 C953.5,810.4 965,807.9 976.4,806.3 C987.8,804.6 999.6,803.7 1010.6,803.2 C1021.6,802.7 1031.9,803.4 1042.5,803.4 C1053.1,803.4 1063.4,802.7 1074.4,803.2 C1085.4,803.7 1097.2,804.6 1108.6,806.3 C1120,807.9 1131.5,810.4 1142.9,813.1 C1154.3,815.8 1167.7,819.2 1177.2,822.3 C1186.7,825.3 1194.2,828.8 1200,831.4 C1205.8,834 1208.2,835.8 1212,838 C1215.8,840.2 1219.1,842.1 1222.9,844.5 C1226.7,846.9 1231.2,850.1 1235,852.5 C1238.8,854.9 1241.5,857 1245.7,859 C1249.9,861 1255,863 1260,864.5 C1265,866 1271.2,867.2 1275.4,868 C1279.6,868.8 1283.4,868.8 1285,869" stroke="#ec5660" stroke-width="12"/>
<path d="M800,869 C801.6,868.8 805.4,868.8 809.6,868 C813.8,867.2 820,866 825,864.5 C830,863 835.1,861 839.3,859 C843.5,857 846.2,854.9 850,852.5 C853.8,850.1 858.3,846.9 862.1,844.5 C865.9,842.1 869.2,840.2 873,838 C876.8,835.8 879.2,834 885,831.4 C890.8,828.8 898.3,825.3 907.8,822.3 C917.3,819.2 930.7,815.8 942.1,813.1 C953.5,810.4 965,807.9 976.4,806.3 C987.8,804.6 999.6,803.7 1010.6,803.2 C1021.6,802.7 1031.9,803.4 1042.5,803.4 C1053.1,803.4 1063.4,802.7 1074.4,803.2 C1085.4,803.7 1097.2,804.6 1108.6,806.3 C1120,807.9 1131.5,810.4 1142.9,813.1 C1154.3,815.8 1167.7,819.2 1177.2,822.3 C1186.7,825.3 1194.2,828.8 1200,831.4 C1205.8,834 1208.2,835.8 1212,838 C1215.8,840.2 1219.1,842.1 1222.9,844.5 C1226.7,846.9 1231.2,850.1 1235,852.5 C1238.8,854.9 1241.5,857 1245.7,859 C1249.9,861 1255,863 1260,864.5 C1265,866 1271.2,867.2 1275.4,868 C1279.6,868.8 1283.4,868.8 1285,869" stroke="#f7b0b4" stroke-width="5"/>
</g>
</g>
<line x1="1042.5" y1="613.8" x2="1042.5" y2="1085.2" stroke="#4a4a4a" stroke-width="1.6"/>
<rect x="808.6" y="613.8" width="468.4" height="471.4000000000001" fill="none" stroke="#6a6a6a" stroke-width="2"/>
<line x1="808.6" y1="849.5" x2="815.6" y2="849.5" stroke="#444" stroke-width="1.6"/>
<line x1="1277" y1="849.5" x2="1270" y2="849.5" stroke="#444" stroke-width="1.6"/>
<defs><linearGradient id="cbD" x1="0" y1="1" x2="0" y2="0">
<stop offset="0.000" stop-color="#2050f2"/>
<stop offset="0.091" stop-color="#4670ee"/>
<stop offset="0.182" stop-color="#6a8cf0"/>
<stop offset="0.273" stop-color="#8aa5f2"/>
<stop offset="0.364" stop-color="#aabef5"/>
<stop offset="0.455" stop-color="#d6e0fa"/>
<stop offset="0.500" stop-color="#fbfbfd"/>
<stop offset="0.545" stop-color="#f9dcdd"/>
<stop offset="0.636" stop-color="#f7b3b6"/>
<stop offset="0.727" stop-color="#f58a8e"/>
<stop offset="0.818" stop-color="#f36064"/>
<stop offset="0.909" stop-color="#f2393e"/>
<stop offset="1.000" stop-color="#f20f18"/>
</linearGradient></defs>
<rect x="1287.5" y="614" width="23.299999999999955" height="470.29999999999995" fill="url(#cbD)" stroke="#555" stroke-width="1.6"/>
<g stroke="#444" stroke-width="1.6">
<line x1="1287.5" y1="656.8" x2="1292.5" y2="656.8"/><line x1="1305.8" y1="656.8" x2="1310.8" y2="656.8"/>
<line x1="1287.5" y1="699.5" x2="1292.5" y2="699.5"/><line x1="1305.8" y1="699.5" x2="1310.8" y2="699.5"/>
<line x1="1287.5" y1="742.3" x2="1292.5" y2="742.3"/><line x1="1305.8" y1="742.3" x2="1310.8" y2="742.3"/>
<line x1="1287.5" y1="785" x2="1292.5" y2="785"/><line x1="1305.8" y1="785" x2="1310.8" y2="785"/>
<line x1="1287.5" y1="827.8" x2="1292.5" y2="827.8"/><line x1="1305.8" y1="827.8" x2="1310.8" y2="827.8"/>
<line x1="1287.5" y1="870.5" x2="1292.5" y2="870.5"/><line x1="1305.8" y1="870.5" x2="1310.8" y2="870.5"/>
<line x1="1287.5" y1="913.3" x2="1292.5" y2="913.3"/><line x1="1305.8" y1="913.3" x2="1310.8" y2="913.3"/>
<line x1="1287.5" y1="956" x2="1292.5" y2="956"/><line x1="1305.8" y1="956" x2="1310.8" y2="956"/>
<line x1="1287.5" y1="998.8" x2="1292.5" y2="998.8"/><line x1="1305.8" y1="998.8" x2="1310.8" y2="998.8"/>
<line x1="1287.5" y1="1041.5" x2="1292.5" y2="1041.5"/><line x1="1305.8" y1="1041.5" x2="1310.8" y2="1041.5"/>
</g>
<g style="font-family:'Liberation Serif','Times New Roman',serif" font-size="34" fill="#151515">
<text x="1338" y="616">10</text>
<text x="1338" y="658.8">9</text>
<text x="1338" y="701.6">8</text>
<text x="1338" y="744.4">7</text>
<text x="1338" y="787.2">6</text>
<text x="1338" y="830">5</text>
<text x="1338" y="872.8">4</text>
<text x="1338" y="915.6">3</text>
<text x="1338" y="958.4">2</text>
<text x="1338" y="1001.2">1</text>
<text x="1338" y="1044">0</text>
<text x="1356.5" y="1086.8" text-anchor="end">-1</text>
</g>
<g style="font-family:'Liberation Serif','Times New Roman',serif" font-size="34" fill="#151515" text-anchor="end">
<text x="781" y="615">2</text><text x="780" y="853">1</text><text x="781" y="1088">0</text>
</g>
<g style="font-family:'Liberation Serif','Times New Roman',serif" font-size="34.5" fill="#151515" text-anchor="middle">
<text x="808" y="1138.4">-X</text><text x="1042.5" y="1138.4">Γ</text><text x="1275" y="1138.4">X</text>
</g>
<text x="738.5" y="849" transform="rotate(-90 738.5 849)" style="font-family:'Liberation Serif','Times New Roman',serif" font-size="34.7" fill="#151515" text-anchor="middle">Energy (eV)</text>
<text x="810.5" y="603" style="font-family:'Liberation Serif','Times New Roman',serif" font-size="45" fill="#151515" letter-spacing="1.5">(d)</text>
<defs><clipPath id="clipE"><rect x="1532.8" y="607.8" width="459.0" height="463.20000000000005"/></clipPath><filter id="blE" x="-0.3" y="-0.3" width="1.6" height="1.6"><feGaussianBlur stdDeviation="9"/></filter><filter id="blE2" x="-0.3" y="-0.3" width="1.6" height="1.6"><feGaussianBlur stdDeviation="4"/></filter><filter id="blE3" x="-0.3" y="-0.3" width="1.6" height="1.6"><feGaussianBlur stdDeviation="2"/></filter><filter id="blE1" x="-0.1" y="-0.1" width="1.2" height="1.2"><feGaussianBlur stdDeviation="0.8"/></filter><radialGradient id="gE" cx="1762" cy="980" r="330" gradientUnits="userSpaceOnUse"><stop offset="0" stop-color="#587ff8"/><stop offset="0.6" stop-color="#4f78f7"/><stop offset="1" stop-color="#426cf8"/></radialGradient></defs>
<g clip-path="url(#clipE)">
<rect x="1532.8" y="607.8" width="459.0" height="463.20000000000005" fill="url(#gE)"/>
<g filter="url(#blE)" fill="none" stroke="#a9bef8" opacity="0.75">
<path d="M1593,600 C1593.1,601.2 1589.9,589.9 1593.4,607.4 C1597,624.9 1608.2,676.2 1614.3,705 C1620.4,733.8 1625,754 1630,780 C1635,806 1638.2,834.5 1644.2,860.9 C1650.2,887.3 1657.8,903.6 1666.2,938.6 C1674.6,973.6 1689.3,1047.1 1694.4,1070.7 C1699.5,1094.3 1696.6,1078.5 1697,1080" stroke-width="26"/>
<path d="M1931.6,600 C1931.5,601.2 1934.7,589.9 1931.2,607.4 C1927.6,624.9 1916.4,676.2 1910.3,705 C1904.2,733.8 1899.6,754 1894.6,780 C1889.6,806 1886.4,834.5 1880.4,860.9 C1874.4,887.3 1866.8,903.6 1858.4,938.6 C1850,973.6 1835.3,1047.1 1830.2,1070.7 C1825.1,1094.3 1828,1078.5 1827.6,1080" stroke-width="26"/>
<path d="M1525,1002.5 C1526.4,1002.5 1529.7,1002.5 1533.3,1002.7 C1536.9,1002.9 1541.9,1002.2 1546.7,1003.8 C1551.5,1005.4 1557.6,1008.9 1561.9,1012.5 C1566.2,1016.1 1569.2,1019.7 1572.8,1025.5 C1576.4,1031.3 1580.3,1039.7 1583.6,1047.2 C1586.8,1054.7 1590.2,1065.2 1592.3,1070.7 C1594.4,1076.2 1595.4,1078.5 1596,1080" stroke-width="40"/>
<path d="M1999.6,1002.5 C1998.2,1002.5 1994.9,1002.5 1991.3,1002.7 C1987.7,1002.9 1982.7,1002.2 1977.9,1003.8 C1973.1,1005.4 1967,1008.9 1962.7,1012.5 C1958.3,1016.1 1955.4,1019.7 1951.8,1025.5 C1948.2,1031.3 1944.2,1039.7 1941,1047.2 C1937.8,1054.7 1934.4,1065.2 1932.3,1070.7 C1930.2,1076.2 1929.2,1078.5 1928.6,1080" stroke-width="40"/>
<path d="M1525,936 C1526.4,935.9 1529.7,935.6 1533.3,935.3 C1536.9,935 1540.8,935.9 1546.7,934.3 C1552.6,932.7 1561.2,929.2 1568.4,925.6 C1575.7,922 1583,917.6 1590.2,912.5 C1597.5,907.4 1605.3,901.1 1611.9,895.2 C1618.5,889.3 1624.6,882.7 1630,877 C1635.4,871.3 1639,866.5 1644.2,861 C1649.4,855.5 1654.7,850.6 1660.9,844.3 C1667.2,838 1674.8,830.3 1681.7,823.4 C1688.7,816.5 1695.6,808.2 1702.6,802.6 C1709.5,797 1716.5,793.1 1723.4,790 C1730.4,786.9 1737.8,785.4 1744.3,784.2 C1750.8,783 1756.3,782.9 1762.3,782.9 C1768.3,782.9 1773.8,783 1780.3,784.2 C1786.8,785.4 1794.2,786.9 1801.2,790 C1808.1,793.1 1815,797 1822,802.6 C1829,808.2 1835.9,816.5 1842.9,823.4 C1849.8,830.3 1857.4,838 1863.7,844.3 C1869.9,850.6 1875.2,855.5 1880.4,861 C1885.5,866.5 1889.2,871.3 1894.6,877 C1900,882.7 1906.1,889.3 1912.7,895.2 C1919.3,901.1 1927.1,907.4 1934.4,912.5 C1941.6,917.6 1948.9,922 1956.2,925.6 C1963.4,929.2 1972,932.7 1977.9,934.3 C1983.8,935.9 1987.7,935 1991.3,935.3 C1994.9,935.6 1998.2,935.9 1999.6,936" stroke-width="64"/>
<path d="M1620,595 C1620.2,597.1 1619.3,599.3 1621.5,607.4 C1623.7,615.5 1628.9,632 1633,643.4 C1637.1,654.8 1641.5,665.1 1646,676 C1650.5,686.9 1655.7,699.6 1659.7,708.6 C1663.7,717.6 1667,724.5 1670,730 C1673,735.5 1674.9,737.7 1677.5,741.5 C1680.1,745.3 1682.4,749.3 1685.5,753 C1688.6,756.7 1691.4,760.5 1696,763.5 C1700.6,766.5 1706.7,769.3 1713,771 C1719.3,772.7 1725.8,773.1 1734,773.5 C1742.2,773.9 1752.9,773.6 1762.3,773.6 C1771.7,773.6 1782.4,773.9 1790.6,773.5 C1798.8,773.1 1805.3,772.7 1811.6,771 C1817.9,769.3 1824,766.5 1828.6,763.5 C1833.2,760.5 1836,756.7 1839.1,753 C1842.2,749.3 1844.5,745.3 1847.1,741.5 C1849.7,737.7 1851.6,735.5 1854.6,730 C1857.6,724.5 1860.9,717.6 1864.9,708.6 C1868.9,699.6 1874.1,686.9 1878.6,676 C1883,665.1 1887.5,654.8 1891.6,643.4 C1895.7,632 1900.9,615.5 1903.1,607.4 C1905.3,599.3 1904.3,597.1 1904.6,595" stroke-width="48"/>
<path d="M1600,607 L1622,607 L1660,708 L1700,765 L1735,778 L1700,790 L1660,830 L1645,855 L1630,790Z" fill="#a9bef8" stroke="none"/>
<path d="M1924.6,607 L1902.6,607 L1864.6,708 L1824.6,765 L1789.6,778 L1824.6,790 L1864.6,830 L1879.6,855 L1894.6,790Z" fill="#a9bef8" stroke="none"/>
<path d="M1525,1010 L1555,1012 L1575,1040 L1585,1080 L1525,1080Z" fill="#dfe7fd" stroke="none"/>
<path d="M1999.6,1010 L1969.6,1012 L1949.6,1040 L1939.6,1080 L1999.6,1080Z" fill="#dfe7fd" stroke="none"/>
<path d="M1525,840 L1560,835 L1600,850 L1625,870 L1590,905 L1550,925 L1525,928Z" fill="#9fb6f8" stroke="none" opacity="0.8"/>
<path d="M1999.6,840 L1964.6,835 L1924.6,850 L1899.6,870 L1934.6,905 L1974.6,925 L1999.6,928Z" fill="#9fb6f8" stroke="none" opacity="0.8"/>
<path d="M1690,755 L1712,775 L1725,780 L1712,790 L1690,805 L1675,790Z" fill="#ffffff" stroke="none"/>
<path d="M1834.6,755 L1812.6,775 L1799.6,780 L1812.6,790 L1834.6,805 L1849.6,790Z" fill="#ffffff" stroke="none"/>
</g>
<g filter="url(#blE2)" fill="none" stroke="#ffffff" opacity="0.95">
<path d="M1593,600 C1593.1,601.2 1589.9,589.9 1593.4,607.4 C1597,624.9 1608.2,676.2 1614.3,705 C1620.4,733.8 1625,754 1630,780 C1635,806 1638.2,834.5 1644.2,860.9 C1650.2,887.3 1657.8,903.6 1666.2,938.6 C1674.6,973.6 1689.3,1047.1 1694.4,1070.7 C1699.5,1094.3 1696.6,1078.5 1697,1080" stroke-width="13"/>
<path d="M1931.6,600 C1931.5,601.2 1934.7,589.9 1931.2,607.4 C1927.6,624.9 1916.4,676.2 1910.3,705 C1904.2,733.8 1899.6,754 1894.6,780 C1889.6,806 1886.4,834.5 1880.4,860.9 C1874.4,887.3 1866.8,903.6 1858.4,938.6 C1850,973.6 1835.3,1047.1 1830.2,1070.7 C1825.1,1094.3 1828,1078.5 1827.6,1080" stroke-width="13"/>
<path d="M1525,1002.5 C1526.4,1002.5 1529.7,1002.5 1533.3,1002.7 C1536.9,1002.9 1541.9,1002.2 1546.7,1003.8 C1551.5,1005.4 1557.6,1008.9 1561.9,1012.5 C1566.2,1016.1 1569.2,1019.7 1572.8,1025.5 C1576.4,1031.3 1580.3,1039.7 1583.6,1047.2 C1586.8,1054.7 1590.2,1065.2 1592.3,1070.7 C1594.4,1076.2 1595.4,1078.5 1596,1080" stroke-width="22"/>
<path d="M1999.6,1002.5 C1998.2,1002.5 1994.9,1002.5 1991.3,1002.7 C1987.7,1002.9 1982.7,1002.2 1977.9,1003.8 C1973.1,1005.4 1967,1008.9 1962.7,1012.5 C1958.3,1016.1 1955.4,1019.7 1951.8,1025.5 C1948.2,1031.3 1944.2,1039.7 1941,1047.2 C1937.8,1054.7 1934.4,1065.2 1932.3,1070.7 C1930.2,1076.2 1929.2,1078.5 1928.6,1080" stroke-width="22"/>
<path d="M1525,936 C1526.4,935.9 1529.7,935.6 1533.3,935.3 C1536.9,935 1540.8,935.9 1546.7,934.3 C1552.6,932.7 1561.2,929.2 1568.4,925.6 C1575.7,922 1583,917.6 1590.2,912.5 C1597.5,907.4 1605.3,901.1 1611.9,895.2 C1618.5,889.3 1624.6,882.7 1630,877 C1635.4,871.3 1639,866.5 1644.2,861 C1649.4,855.5 1654.7,850.6 1660.9,844.3 C1667.2,838 1674.8,830.3 1681.7,823.4 C1688.7,816.5 1695.6,808.2 1702.6,802.6 C1709.5,797 1716.5,793.1 1723.4,790 C1730.4,786.9 1737.8,785.4 1744.3,784.2 C1750.8,783 1756.3,782.9 1762.3,782.9 C1768.3,782.9 1773.8,783 1780.3,784.2 C1786.8,785.4 1794.2,786.9 1801.2,790 C1808.1,793.1 1815,797 1822,802.6 C1829,808.2 1835.9,816.5 1842.9,823.4 C1849.8,830.3 1857.4,838 1863.7,844.3 C1869.9,850.6 1875.2,855.5 1880.4,861 C1885.5,866.5 1889.2,871.3 1894.6,877 C1900,882.7 1906.1,889.3 1912.7,895.2 C1919.3,901.1 1927.1,907.4 1934.4,912.5 C1941.6,917.6 1948.9,922 1956.2,925.6 C1963.4,929.2 1972,932.7 1977.9,934.3 C1983.8,935.9 1987.7,935 1991.3,935.3 C1994.9,935.6 1998.2,935.9 1999.6,936" stroke-width="30"/>
<path d="M1620,595 C1620.2,597.1 1619.3,599.3 1621.5,607.4 C1623.7,615.5 1628.9,632 1633,643.4 C1637.1,654.8 1641.5,665.1 1646,676 C1650.5,686.9 1655.7,699.6 1659.7,708.6 C1663.7,717.6 1667,724.5 1670,730 C1673,735.5 1674.9,737.7 1677.5,741.5 C1680.1,745.3 1682.4,749.3 1685.5,753 C1688.6,756.7 1691.4,760.5 1696,763.5 C1700.6,766.5 1706.7,769.3 1713,771 C1719.3,772.7 1725.8,773.1 1734,773.5 C1742.2,773.9 1752.9,773.6 1762.3,773.6 C1771.7,773.6 1782.4,773.9 1790.6,773.5 C1798.8,773.1 1805.3,772.7 1811.6,771 C1817.9,769.3 1824,766.5 1828.6,763.5 C1833.2,760.5 1836,756.7 1839.1,753 C1842.2,749.3 1844.5,745.3 1847.1,741.5 C1849.7,737.7 1851.6,735.5 1854.6,730 C1857.6,724.5 1860.9,717.6 1864.9,708.6 C1868.9,699.6 1874.1,686.9 1878.6,676 C1883,665.1 1887.5,654.8 1891.6,643.4 C1895.7,632 1900.9,615.5 1903.1,607.4 C1905.3,599.3 1904.3,597.1 1904.6,595" stroke-width="26"/>
</g>
<path d="M1525,952 C1526.4,951.9 1529.7,951.6 1533.3,951.3 C1536.9,951 1540.8,951.9 1546.7,950.3 C1552.6,948.7 1561.2,945.2 1568.4,941.6 C1575.7,938 1583,933.6 1590.2,928.5 C1597.5,923.4 1605.3,917.1 1611.9,911.2 C1618.5,905.3 1624.6,898.7 1630,893 C1635.4,887.3 1639,882.5 1644.2,877 C1649.4,871.5 1654.7,866.6 1660.9,860.3 C1667.2,854 1674.8,846.3 1681.7,839.4 C1688.7,832.5 1695.6,824.2 1702.6,818.6 C1709.5,813 1716.5,809.1 1723.4,806 C1730.4,802.9 1737.8,801.4 1744.3,800.2 C1750.8,799 1756.3,798.9 1762.3,798.9 C1768.3,798.9 1773.8,799 1780.3,800.2 C1786.8,801.4 1794.2,802.9 1801.2,806 C1808.1,809.1 1815,813 1822,818.6 C1829,824.2 1835.9,832.5 1842.9,839.4 C1849.8,846.3 1857.4,854 1863.7,860.3 C1869.9,866.6 1875.2,871.5 1880.4,877 C1885.5,882.5 1889.2,887.3 1894.6,893 C1900,898.7 1906.1,905.3 1912.7,911.2 C1919.3,917.1 1927.1,923.4 1934.4,928.5 C1941.6,933.6 1948.9,938 1956.2,941.6 C1963.4,945.2 1972,948.7 1977.9,950.3 C1983.8,951.9 1987.7,951 1991.3,951.3 C1994.9,951.6 1998.2,951.9 1999.6,952" fill="none" stroke="#f3f6ff" stroke-width="22" filter="url(#blE2)" opacity="0.9"/>
<path d="M1677.5,727.5 C1678.8,729.4 1682.4,735.3 1685.5,739 C1688.6,742.7 1691.4,746.5 1696,749.5 C1700.6,752.5 1706.7,755.3 1713,757 C1719.3,758.7 1725.8,759.1 1734,759.5 C1742.2,759.9 1752.9,759.6 1762.3,759.6 C1771.7,759.6 1782.4,759.9 1790.6,759.5 C1798.8,759.1 1805.3,758.7 1811.6,757 C1817.9,755.3 1824,752.5 1828.6,749.5 C1833.2,746.5 1836,742.7 1839.1,739 C1842.2,735.3 1845.8,729.4 1847.1,727.5" fill="none" stroke="#f3f6ff" stroke-width="18" filter="url(#blE2)" opacity="0.85"/>
<g filter="url(#blE3)" fill="none" stroke="#f6b4b6">
<path d="M1525,936 C1526.4,935.9 1529.7,935.6 1533.3,935.3 C1536.9,935 1540.8,935.9 1546.7,934.3 C1552.6,932.7 1561.2,929.2 1568.4,925.6 C1575.7,922 1583,917.6 1590.2,912.5 C1597.5,907.4 1605.3,901.1 1611.9,895.2 C1618.5,889.3 1624.6,882.7 1630,877 C1635.4,871.3 1639,866.5 1644.2,861 C1649.4,855.5 1654.7,850.6 1660.9,844.3 C1667.2,838 1674.8,830.3 1681.7,823.4 C1688.7,816.5 1695.6,808.2 1702.6,802.6 C1709.5,797 1716.5,793.1 1723.4,790 C1730.4,786.9 1737.8,785.4 1744.3,784.2 C1750.8,783 1756.3,782.9 1762.3,782.9 C1768.3,782.9 1773.8,783 1780.3,784.2 C1786.8,785.4 1794.2,786.9 1801.2,790 C1808.1,793.1 1815,797 1822,802.6 C1829,808.2 1835.9,816.5 1842.9,823.4 C1849.8,830.3 1857.4,838 1863.7,844.3 C1869.9,850.6 1875.2,855.5 1880.4,861 C1885.5,866.5 1889.2,871.3 1894.6,877 C1900,882.7 1906.1,889.3 1912.7,895.2 C1919.3,901.1 1927.1,907.4 1934.4,912.5 C1941.6,917.6 1948.9,922 1956.2,925.6 C1963.4,929.2 1972,932.7 1977.9,934.3 C1983.8,935.9 1987.7,935 1991.3,935.3 C1994.9,935.6 1998.2,935.9 1999.6,936" stroke-width="11"/>
<path d="M1659.7,708.6 C1661.4,712.2 1667,724.5 1670,730 C1673,735.5 1674.9,737.7 1677.5,741.5 C1680.1,745.3 1682.4,749.3 1685.5,753 C1688.6,756.7 1691.4,760.5 1696,763.5 C1700.6,766.5 1706.7,769.3 1713,771 C1719.3,772.7 1725.8,773.1 1734,773.5 C1742.2,773.9 1752.9,773.6 1762.3,773.6 C1771.7,773.6 1782.4,773.9 1790.6,773.5 C1798.8,773.1 1805.3,772.7 1811.6,771 C1817.9,769.3 1824,766.5 1828.6,763.5 C1833.2,760.5 1836,756.7 1839.1,753 C1842.2,749.3 1844.5,745.3 1847.1,741.5 C1849.7,737.7 1851.6,735.5 1854.6,730 C1857.6,724.5 1863.2,712.2 1864.9,708.6" stroke-width="10"/>
<path d="M1525,1002.5 C1526.4,1002.5 1529.7,1002.5 1533.3,1002.7 C1536.9,1002.9 1541.9,1002.2 1546.7,1003.8 C1551.5,1005.4 1557.6,1008.9 1561.9,1012.5 C1566.2,1016.1 1569.2,1019.7 1572.8,1025.5 C1576.4,1031.3 1580.3,1039.7 1583.6,1047.2 C1586.8,1054.7 1590.2,1065.2 1592.3,1070.7 C1594.4,1076.2 1595.4,1078.5 1596,1080" stroke-width="10"/>
<path d="M1999.6,1002.5 C1998.2,1002.5 1994.9,1002.5 1991.3,1002.7 C1987.7,1002.9 1982.7,1002.2 1977.9,1003.8 C1973.1,1005.4 1967,1008.9 1962.7,1012.5 C1958.3,1016.1 1955.4,1019.7 1951.8,1025.5 C1948.2,1031.3 1944.2,1039.7 1941,1047.2 C1937.8,1054.7 1934.4,1065.2 1932.3,1070.7 C1930.2,1076.2 1929.2,1078.5 1928.6,1080" stroke-width="10"/>
</g>
<g filter="url(#blE1)" fill="none" stroke-linecap="butt">
<path d="M1525,936 C1526.4,935.9 1529.7,935.6 1533.3,935.3 C1536.9,935 1540.8,935.9 1546.7,934.3 C1552.6,932.7 1561.2,929.2 1568.4,925.6 C1575.7,922 1583,917.6 1590.2,912.5 C1597.5,907.4 1605.3,901.1 1611.9,895.2 C1618.5,889.3 1624.6,882.7 1630,877 C1635.4,871.3 1639,866.5 1644.2,861 C1649.4,855.5 1654.7,850.6 1660.9,844.3 C1667.2,838 1674.8,830.3 1681.7,823.4 C1688.7,816.5 1695.6,808.2 1702.6,802.6 C1709.5,797 1716.5,793.1 1723.4,790 C1730.4,786.9 1737.8,785.4 1744.3,784.2 C1750.8,783 1756.3,782.9 1762.3,782.9 C1768.3,782.9 1773.8,783 1780.3,784.2 C1786.8,785.4 1794.2,786.9 1801.2,790 C1808.1,793.1 1815,797 1822,802.6 C1829,808.2 1835.9,816.5 1842.9,823.4 C1849.8,830.3 1857.4,838 1863.7,844.3 C1869.9,850.6 1875.2,855.5 1880.4,861 C1885.5,866.5 1889.2,871.3 1894.6,877 C1900,882.7 1906.1,889.3 1912.7,895.2 C1919.3,901.1 1927.1,907.4 1934.4,912.5 C1941.6,917.6 1948.9,922 1956.2,925.6 C1963.4,929.2 1972,932.7 1977.9,934.3 C1983.8,935.9 1987.7,935 1991.3,935.3 C1994.9,935.6 1998.2,935.9 1999.6,936" stroke="#e9353d" stroke-width="7"/>
<path d="M1618.0,595.1 L1618.0,595.7 L1618.0,596.3 L1618.0,597.0 L1618.0,597.9 L1618.0,599.0 L1618.1,600.3 L1618.3,601.8 L1618.6,603.6 L1619.0,605.6 L1619.6,607.9 L1620.3,610.6 L1621.2,613.7 L1622.3,617.2 L1623.4,620.9 L1624.6,624.7 L1625.9,628.7 L1627.2,632.7 L1628.5,636.7 L1629.9,640.5 L1631.1,644.1 L1632.3,647.5 L1633.5,650.9 L1634.7,654.2 L1636.0,657.5 L1637.3,660.8 L1638.6,664.0 L1639.8,667.2 L1641.1,670.4 L1642.4,673.7 L1643.7,676.9 L1645.1,680.3 L1646.4,683.7 L1647.8,687.1 L1649.2,690.6 L1650.6,694.0 L1651.9,697.4 L1653.3,700.7 L1654.6,703.9 L1655.9,706.9 L1657.1,709.8 L1658.2,712.4 L1659.4,715.0 L1660.5,717.4 L1661.5,719.7 L1662.5,721.9 L1663.5,724.0 L1664.5,726.0 L1665.4,727.9 L1666.4,729.8 L1667.3,731.5 L1668.1,733.1 L1669.0,734.6 L1669.8,735.9 L1670.5,737.1 L1671.3,738.2 L1672.0,739.2 L1672.7,740.2 L1673.4,741.2 L1674.1,742.3 L1674.8,743.3 L1675.5,744.5 L1676.3,745.6 L1677.0,746.8 L1677.8,748.0 L1678.5,749.2 L1679.3,750.4 L1680.2,751.6 L1681.0,752.8 L1681.9,754.0 L1682.9,755.2 L1683.8,756.3 L1684.7,757.4 L1685.6,758.6 L1686.6,759.7 L1687.6,760.9 L1688.7,762.0 L1689.9,763.2 L1691.2,764.3 L1692.6,765.4 L1694.1,766.4 L1695.6,767.4 L1697.2,768.3 L1698.9,769.2 L1700.6,770.1 L1702.4,770.9 L1704.3,771.7 L1706.2,772.5 L1708.1,773.2 L1710.1,773.8 L1712.1,774.4 L1714.1,774.9 L1716.2,775.3 L1718.2,775.7 L1720.3,775.9 L1722.4,776.2 L1724.6,776.4 L1726.8,776.6 L1729.0,776.7 L1731.4,776.9 L1733.8,777.0 L1736.4,777.1 L1739.1,777.2 L1741.9,777.2 L1744.8,777.2 L1747.7,777.2 L1750.7,777.2 L1753.6,777.2 L1756.6,777.1 L1759.5,777.1 L1762.3,777.1 L1765.1,777.1 L1768.0,777.1 L1771.0,777.2 L1773.9,777.2 L1776.9,777.2 L1779.8,777.2 L1782.7,777.2 L1785.5,777.2 L1788.2,777.1 L1790.8,777.0 L1793.2,776.9 L1795.6,776.7 L1797.8,776.6 L1800.0,776.4 L1802.2,776.2 L1804.3,775.9 L1806.4,775.7 L1808.4,775.3 L1810.5,774.9 L1812.5,774.4 L1814.5,773.8 L1816.5,773.2 L1818.4,772.5 L1820.3,771.7 L1822.2,770.9 L1824.0,770.1 L1825.7,769.2 L1827.4,768.3 L1829.0,767.4 L1830.5,766.4 L1832.0,765.4 L1833.4,764.3 L1834.7,763.2 L1835.9,762.0 L1837.0,760.9 L1838.0,759.7 L1839.0,758.6 L1839.9,757.4 L1840.8,756.3 L1841.7,755.2 L1842.7,754.0 L1843.6,752.8 L1844.4,751.6 L1845.3,750.4 L1846.1,749.2 L1846.8,748.0 L1847.6,746.8 L1848.3,745.6 L1849.1,744.5 L1849.8,743.3 L1850.5,742.3 L1851.2,741.2 L1851.9,740.2 L1852.6,739.2 L1853.3,738.2 L1854.1,737.1 L1854.8,735.9 L1855.6,734.6 L1856.5,733.1 L1857.3,731.5 L1858.2,729.8 L1859.2,727.9 L1860.1,726.0 L1861.1,724.0 L1862.1,721.9 L1863.1,719.7 L1864.1,717.4 L1865.2,715.0 L1866.4,712.4 L1867.5,709.8 L1868.7,706.9 L1870.0,703.9 L1871.3,700.7 L1872.7,697.4 L1874.0,694.0 L1875.4,690.6 L1876.8,687.1 L1878.2,683.7 L1879.5,680.3 L1880.9,676.9 L1882.2,673.7 L1883.5,670.4 L1884.8,667.2 L1886.0,664.0 L1887.3,660.8 L1888.6,657.5 L1889.9,654.2 L1891.1,650.9 L1892.3,647.5 L1893.5,644.1 L1894.7,640.5 L1896.1,636.7 L1897.4,632.7 L1898.7,628.7 L1900.0,624.7 L1901.2,620.9 L1902.3,617.2 L1903.4,613.7 L1904.3,610.6 L1905.0,607.9 L1905.6,605.6 L1906.0,603.6 L1906.3,601.8 L1906.5,600.3 L1906.6,599.0 L1906.6,597.9 L1906.6,597.0 L1906.6,596.3 L1906.6,595.7 L1906.6,595.1 L1902.6,594.9 L1902.6,595.6 L1902.6,596.3 L1902.6,597.1 L1902.6,597.9 L1902.6,598.9 L1902.5,600.0 L1902.4,601.3 L1902.1,602.8 L1901.7,604.7 L1901.2,606.9 L1900.4,609.5 L1899.5,612.6 L1898.5,616.0 L1897.4,619.7 L1896.2,623.5 L1894.9,627.5 L1893.6,631.5 L1892.3,635.4 L1891.0,639.2 L1889.7,642.7 L1888.4,646.1 L1887.1,649.4 L1885.8,652.6 L1884.5,655.9 L1883.2,659.1 L1881.8,662.3 L1880.4,665.4 L1879.1,668.6 L1877.7,671.8 L1876.3,675.1 L1874.9,678.4 L1873.5,681.7 L1872.1,685.1 L1870.6,688.6 L1869.1,692.0 L1867.7,695.3 L1866.3,698.6 L1864.9,701.7 L1863.5,704.7 L1862.3,707.4 L1861.1,710.1 L1859.9,712.5 L1858.8,714.9 L1857.7,717.2 L1856.7,719.3 L1855.6,721.4 L1854.6,723.3 L1853.7,725.1 L1852.8,726.9 L1851.9,728.5 L1851.0,730.0 L1850.2,731.3 L1849.5,732.5 L1848.8,733.5 L1848.1,734.6 L1847.4,735.5 L1846.7,736.5 L1845.9,737.5 L1845.2,738.5 L1844.4,739.7 L1843.6,740.8 L1842.8,742.0 L1842.0,743.2 L1841.3,744.3 L1840.5,745.5 L1839.7,746.6 L1839.0,747.7 L1838.2,748.7 L1837.3,749.8 L1836.5,750.8 L1835.5,751.9 L1834.6,753.0 L1833.7,754.1 L1832.8,755.1 L1831.9,756.1 L1830.9,757.1 L1829.9,758.0 L1828.9,758.9 L1827.8,759.8 L1826.7,760.6 L1825.4,761.4 L1824.0,762.2 L1822.5,763.0 L1820.9,763.8 L1819.3,764.6 L1817.7,765.3 L1816.0,765.9 L1814.2,766.6 L1812.5,767.1 L1810.7,767.6 L1808.9,768.0 L1807.1,768.4 L1805.3,768.7 L1803.4,769.0 L1801.4,769.2 L1799.4,769.4 L1797.3,769.6 L1795.1,769.7 L1792.8,769.9 L1790.4,770.0 L1787.9,770.1 L1785.3,770.2 L1782.6,770.2 L1779.8,770.2 L1776.9,770.2 L1774.0,770.2 L1771.1,770.2 L1768.1,770.1 L1765.2,770.1 L1762.3,770.1 L1759.4,770.1 L1756.5,770.1 L1753.5,770.2 L1750.6,770.2 L1747.7,770.2 L1744.8,770.2 L1742.0,770.2 L1739.3,770.2 L1736.7,770.1 L1734.2,770.0 L1731.8,769.9 L1729.5,769.7 L1727.3,769.6 L1725.2,769.4 L1723.2,769.2 L1721.2,769.0 L1719.3,768.7 L1717.5,768.4 L1715.7,768.0 L1713.9,767.6 L1712.1,767.1 L1710.4,766.6 L1708.6,765.9 L1706.9,765.3 L1705.3,764.6 L1703.7,763.8 L1702.1,763.0 L1700.6,762.2 L1699.2,761.4 L1697.9,760.6 L1696.8,759.8 L1695.7,758.9 L1694.7,758.0 L1693.7,757.1 L1692.7,756.1 L1691.8,755.1 L1690.9,754.1 L1690.0,753.0 L1689.1,751.9 L1688.1,750.8 L1687.3,749.8 L1686.4,748.7 L1685.6,747.7 L1684.9,746.6 L1684.1,745.5 L1683.3,744.3 L1682.6,743.2 L1681.8,742.0 L1681.0,740.8 L1680.2,739.7 L1679.4,738.5 L1678.7,737.5 L1677.9,736.5 L1677.2,735.5 L1676.5,734.6 L1675.8,733.5 L1675.1,732.5 L1674.4,731.3 L1673.6,730.0 L1672.7,728.5 L1671.8,726.9 L1670.9,725.1 L1670.0,723.3 L1669.0,721.4 L1667.9,719.3 L1666.9,717.2 L1665.8,714.9 L1664.7,712.5 L1663.5,710.1 L1662.3,707.4 L1661.1,704.7 L1659.7,701.7 L1658.3,698.6 L1656.9,695.3 L1655.5,692.0 L1654.0,688.6 L1652.5,685.1 L1651.1,681.7 L1649.7,678.4 L1648.3,675.1 L1646.9,671.8 L1645.5,668.6 L1644.2,665.4 L1642.8,662.3 L1641.4,659.1 L1640.1,655.9 L1638.8,652.6 L1637.5,649.4 L1636.2,646.1 L1634.9,642.7 L1633.6,639.2 L1632.3,635.4 L1631.0,631.5 L1629.7,627.5 L1628.4,623.5 L1627.2,619.7 L1626.1,616.0 L1625.1,612.6 L1624.2,609.5 L1623.4,606.9 L1622.9,604.7 L1622.5,602.8 L1622.2,601.3 L1622.1,600.0 L1622.0,598.9 L1622.0,597.9 L1622.0,597.1 L1622.0,596.3 L1622.0,595.6 L1622.0,594.9Z" fill="#e9353d" stroke="none"/>
<path d="M1525,1002.5 C1526.4,1002.5 1529.7,1002.5 1533.3,1002.7 C1536.9,1002.9 1541.9,1002.2 1546.7,1003.8 C1551.5,1005.4 1557.6,1008.9 1561.9,1012.5 C1566.2,1016.1 1569.2,1019.7 1572.8,1025.5 C1576.4,1031.3 1580.3,1039.7 1583.6,1047.2 C1586.8,1054.7 1590.2,1065.2 1592.3,1070.7 C1594.4,1076.2 1595.4,1078.5 1596,1080" stroke="#e9353d" stroke-width="6.5"/>
<path d="M1999.6,1002.5 C1998.2,1002.5 1994.9,1002.5 1991.3,1002.7 C1987.7,1002.9 1982.7,1002.2 1977.9,1003.8 C1973.1,1005.4 1967,1008.9 1962.7,1012.5 C1958.3,1016.1 1955.4,1019.7 1951.8,1025.5 C1948.2,1031.3 1944.2,1039.7 1941,1047.2 C1937.8,1054.7 1934.4,1065.2 1932.3,1070.7 C1930.2,1076.2 1929.2,1078.5 1928.6,1080" stroke="#e9353d" stroke-width="6.5"/>
<path d="M1593,600 C1593.1,601.2 1589.9,589.9 1593.4,607.4 C1597,624.9 1608.2,676.2 1614.3,705 C1620.4,733.8 1625,754 1630,780 C1635,806 1638.2,834.5 1644.2,860.9 C1650.2,887.3 1657.8,903.6 1666.2,938.6 C1674.6,973.6 1689.3,1047.1 1694.4,1070.7 C1699.5,1094.3 1696.6,1078.5 1697,1080" stroke="#ec4d55" stroke-width="4.6"/>
<path d="M1593,600 C1593.1,601.2 1589.9,589.9 1593.4,607.4 C1597,624.9 1608.2,676.2 1614.3,705 C1620.4,733.8 1625,754 1630,780 C1635,806 1638.2,834.5 1644.2,860.9 C1650.2,887.3 1657.8,903.6 1666.2,938.6 C1674.6,973.6 1689.3,1047.1 1694.4,1070.7 C1699.5,1094.3 1696.6,1078.5 1697,1080" stroke="#f7b0b3" stroke-width="1"/>
<path d="M1931.6,600 C1931.5,601.2 1934.7,589.9 1931.2,607.4 C1927.6,624.9 1916.4,676.2 1910.3,705 C1904.2,733.8 1899.6,754 1894.6,780 C1889.6,806 1886.4,834.5 1880.4,860.9 C1874.4,887.3 1866.8,903.6 1858.4,938.6 C1850,973.6 1835.3,1047.1 1830.2,1070.7 C1825.1,1094.3 1828,1078.5 1827.6,1080" stroke="#ec4d55" stroke-width="4.6"/>
<path d="M1931.6,600 C1931.5,601.2 1934.7,589.9 1931.2,607.4 C1927.6,624.9 1916.4,676.2 1910.3,705 C1904.2,733.8 1899.6,754 1894.6,780 C1889.6,806 1886.4,834.5 1880.4,860.9 C1874.4,887.3 1866.8,903.6 1858.4,938.6 C1850,973.6 1835.3,1047.1 1830.2,1070.7 C1825.1,1094.3 1828,1078.5 1827.6,1080" stroke="#f7b0b3" stroke-width="1"/>
</g>
</g>
<line x1="1762.3" y1="607.8" x2="1762.3" y2="1071" stroke="#2a44a8" stroke-width="2.4"/>
<rect x="1532.8" y="607.8" width="459.0" height="463.20000000000005" fill="none" stroke="#33467a" stroke-width="2"/>
<line x1="1532.8" y1="607.8" x2="1991.8" y2="607.8" stroke="#8a8a8a" stroke-width="2"/>
<line x1="1532.8" y1="839.4" x2="1554.8" y2="839.4" stroke="#1f2f60" stroke-width="1.8"/>
<line x1="1991.8" y1="839.4" x2="1969.8" y2="839.4" stroke="#1f2f60" stroke-width="1.8"/>
<defs><linearGradient id="cbE" x1="0" y1="1" x2="0" y2="0">
<stop offset="0.000" stop-color="#2050f2"/>
<stop offset="0.091" stop-color="#4670ee"/>
<stop offset="0.182" stop-color="#6a8cf0"/>
<stop offset="0.273" stop-color="#8aa5f2"/>
<stop offset="0.364" stop-color="#aabef5"/>
<stop offset="0.455" stop-color="#d6e0fa"/>
<stop offset="0.500" stop-color="#fbfbfd"/>
<stop offset="0.545" stop-color="#f9dcdd"/>
<stop offset="0.636" stop-color="#f7b3b6"/>
<stop offset="0.727" stop-color="#f58a8e"/>
<stop offset="0.818" stop-color="#f36064"/>
<stop offset="0.909" stop-color="#f2393e"/>
<stop offset="1.000" stop-color="#f20f18"/>
</linearGradient></defs>
<rect x="2003.5" y="607.5" width="23.0" height="462.5" fill="url(#cbE)" stroke="#555" stroke-width="1.6"/>
<g stroke="#000" stroke-width="2.2" opacity="0.3">
<line x1="2003.5" y1="649.5" x2="2026.5" y2="649.5"/>
<line x1="2003.5" y1="691.6" x2="2026.5" y2="691.6"/>
<line x1="2003.5" y1="733.6" x2="2026.5" y2="733.6"/>
<line x1="2003.5" y1="775.7" x2="2026.5" y2="775.7"/>
<line x1="2003.5" y1="817.7" x2="2026.5" y2="817.7"/>
<line x1="2003.5" y1="859.8" x2="2026.5" y2="859.8"/>
<line x1="2003.5" y1="901.8" x2="2026.5" y2="901.8"/>
<line x1="2003.5" y1="943.9" x2="2026.5" y2="943.9"/>
<line x1="2003.5" y1="985.9" x2="2026.5" y2="985.9"/>
<line x1="2003.5" y1="1028" x2="2026.5" y2="1028"/>
</g>
<g style="font-family:'Liberation Serif','Times New Roman',serif" font-size="34" fill="#151515">
<text x="2051.5" y="620.5">10</text>
<text x="2051.5" y="662.8">9</text>
<text x="2051.5" y="705.1">8</text>
<text x="2051.5" y="747.4">7</text>
<text x="2051.5" y="789.7">6</text>
<text x="2051.5" y="832">5</text>
<text x="2051.5" y="874.3">4</text>
<text x="2051.5" y="916.6">3</text>
<text x="2051.5" y="958.9">2</text>
<text x="2051.5" y="1001.2">1</text>
<text x="2051.5" y="1043.5">0</text>
<text x="2070.0" y="1085.8" text-anchor="end">-1</text>
</g>
<g style="font-family:'Liberation Serif','Times New Roman',serif" font-size="34" fill="#151515" text-anchor="end">
<text x="1509" y="621.5">2</text><text x="1508" y="857.5">1</text><text x="1509.5" y="1086">0</text>
</g>
<g style="font-family:'Liberation Serif','Times New Roman',serif" font-size="35" fill="#151515" text-anchor="middle">
<text x="1532" y="1140.8">-X</text><text x="1762.8" y="1140.8">Γ</text><text x="1995.5" y="1140.8">X</text>
</g>
<text x="1480" y="838.5" transform="rotate(-90 1480 838.5)" style="font-family:'Liberation Serif','Times New Roman',serif" font-size="35.5" fill="#151515" text-anchor="middle">Energy (eV)</text>
<text x="1544" y="598.3" style="font-family:'Liberation Serif','Times New Roman',serif" font-size="44" fill="#151515" letter-spacing="3">(e)</text>
</svg></body></html>
